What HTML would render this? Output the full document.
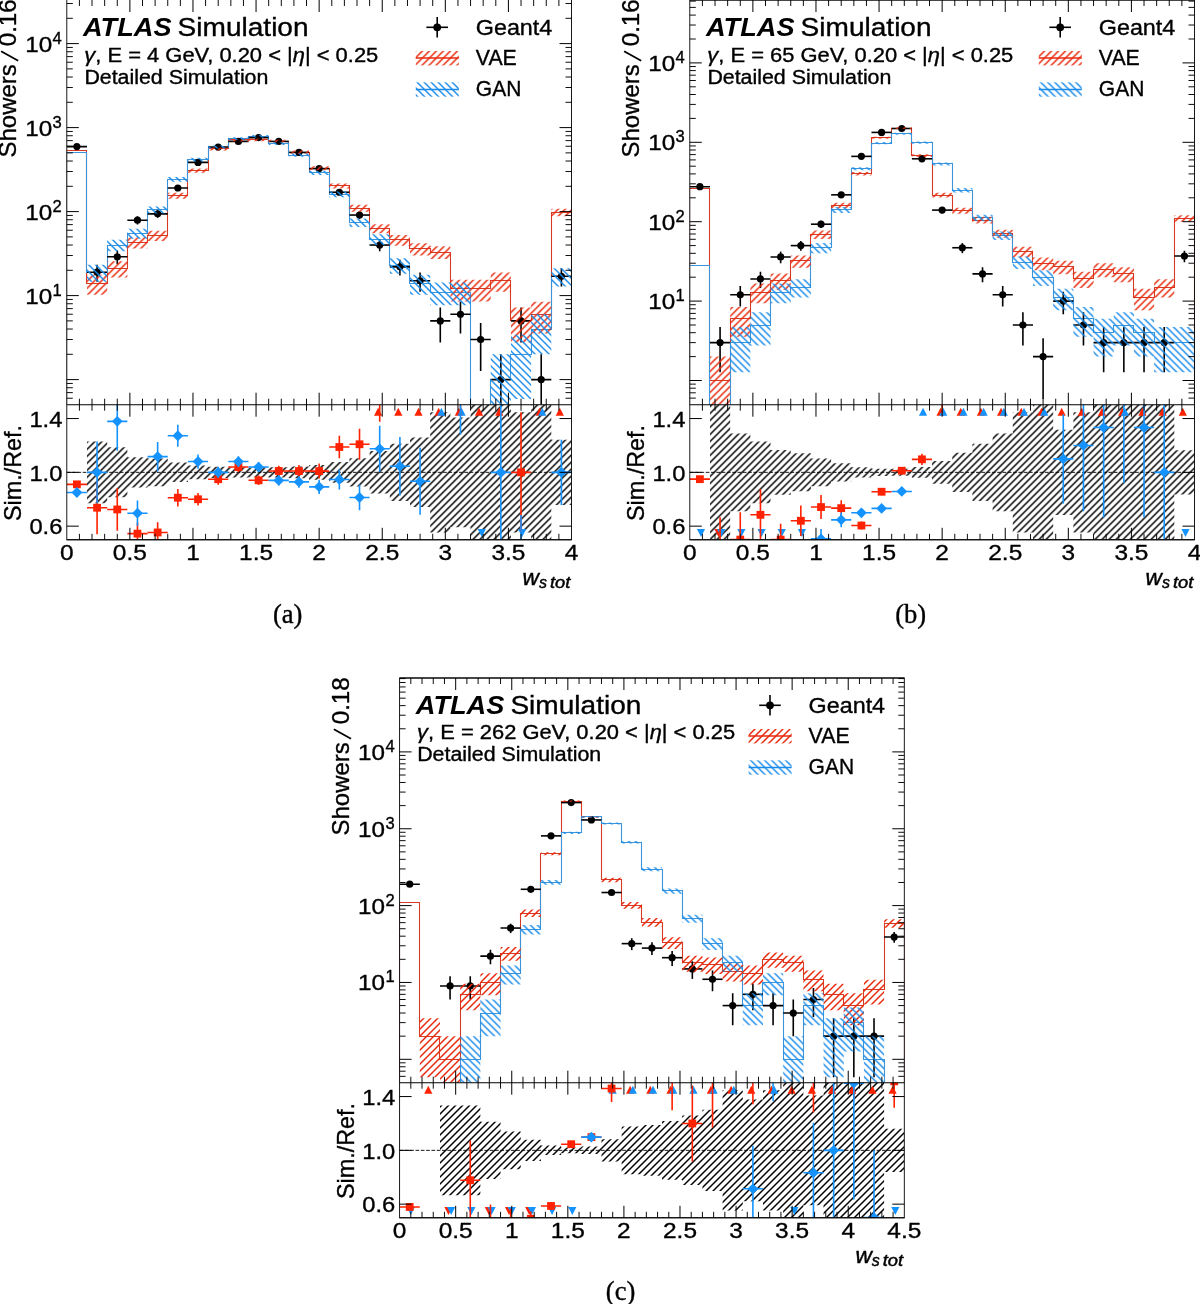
<!DOCTYPE html>
<html><head><meta charset="utf-8"><title>Figure</title>
<style>html,body{margin:0;padding:0;background:#fff}svg{display:block;will-change:transform}text{fill:#000}</style></head>
<body>
<svg width="1200" height="1304" viewBox="0 0 1200 1304">
<rect width="1200" height="1304" fill="#fff"/>
<defs>
<pattern id="hr1" patternUnits="userSpaceOnUse" width="7" height="7" patternTransform="translate(4.4 0)"><path d="M-1 8L8 -1M-1 1L1 -1M6 8L8 6" stroke="#e82a0c" stroke-width="1.42" fill="none" stroke-linecap="square"/></pattern>
<pattern id="hb1" patternUnits="userSpaceOnUse" width="7" height="7" patternTransform="translate(5.9 0)"><path d="M-1 -1L8 8M-1 6L1 8M6 -1L8 1" stroke="#188bea" stroke-width="1.42" fill="none" stroke-linecap="square"/></pattern>
<pattern id="hk1" patternUnits="userSpaceOnUse" width="7" height="7" patternTransform="translate(4.4 0)"><path d="M-1 8L8 -1M-1 1L1 -1M6 8L8 6" stroke="#000" stroke-width="1.45" fill="none" stroke-linecap="square"/></pattern>
</defs>
<clipPath id="cm1"><rect x="66.8" y="0" width="504.7" height="404.5"/></clipPath>
<clipPath id="cr1"><rect x="66.8" y="404.7" width="504.7" height="134.5"/></clipPath>
<g clip-path="url(#cm1)">
<path d="M66.5 434.7V150.5H86.5V283.5H107.5V268.5H127.5V242.5H147.5V235.5H167.5V195.5H187.5V170.5H208.5V148.5H228.5V139.5H248.5V139.5H268.5V141.5H288.5V152.5H309.5V168.5H329.5V185.5H349.5V208.5H369.5V228.5H389.5V239.5H409.5V248.5H430.5V252.5H450.5V288.5H470.5V288.5H490.5V280.5H510.5V320.5H531.5V314.5H551.5V212.5H571.5V434.7" fill="none" stroke="#d63a24" stroke-width="1.08" stroke-linejoin="miter"/>
<path d="M66.5 434.7V152.5H86.5V272.5H107.5V245.5H127.5V233.5H147.5V209.5H167.5V179.5H187.5V159.5H208.5V147.5H228.5V138.5H248.5V136.5H268.5V143.5H288.5V155.5H309.5V172.5H329.5V194.5H349.5V222.5H369.5V239.5H389.5V265.5H409.5V283.5H430.5V292.5H450.5V292.5H470.5V454.5H490.5V379.5H510.5V354.5H531.5V329.5H551.5V276.5H571.5V434.7" fill="none" stroke="#3c95da" stroke-width="1.08" stroke-linejoin="miter"/>
<line x1="66.8" y1="146.6" x2="86.99" y2="146.6" stroke="#000" stroke-width="1.6" />
<line x1="76.89" y1="145.14" x2="76.89" y2="148.13" stroke="#000" stroke-width="1.6" />
<circle cx="76.89" cy="146.6" r="3.6" fill="#000"/>
<line x1="86.99" y1="272.18" x2="107.18" y2="272.18" stroke="#000" stroke-width="1.6" />
<line x1="97.08" y1="264.65" x2="97.08" y2="281.69" stroke="#000" stroke-width="1.6" />
<circle cx="97.08" cy="272.18" r="3.6" fill="#000"/>
<line x1="107.18" y1="256.76" x2="127.36" y2="256.76" stroke="#000" stroke-width="1.6" />
<line x1="117.27" y1="250.54" x2="117.27" y2="264.25" stroke="#000" stroke-width="1.6" />
<circle cx="117.27" cy="256.76" r="3.6" fill="#000"/>
<line x1="127.36" y1="220.2" x2="147.55" y2="220.2" stroke="#000" stroke-width="1.6" />
<line x1="137.46" y1="216.31" x2="137.46" y2="224.55" stroke="#000" stroke-width="1.6" />
<circle cx="137.46" cy="220.2" r="3.6" fill="#000"/>
<line x1="147.55" y1="213.86" x2="167.74" y2="213.86" stroke="#000" stroke-width="1.6" />
<line x1="157.65" y1="210.28" x2="157.65" y2="217.83" stroke="#000" stroke-width="1.6" />
<circle cx="157.65" cy="213.86" r="3.6" fill="#000"/>
<line x1="167.74" y1="187.99" x2="187.93" y2="187.99" stroke="#000" stroke-width="1.6" />
<line x1="177.83" y1="185.44" x2="177.83" y2="190.73" stroke="#000" stroke-width="1.6" />
<circle cx="177.83" cy="187.99" r="3.6" fill="#000"/>
<line x1="187.93" y1="162.42" x2="208.12" y2="162.42" stroke="#000" stroke-width="1.6" />
<line x1="198.02" y1="160.61" x2="198.02" y2="164.33" stroke="#000" stroke-width="1.6" />
<circle cx="198.02" cy="162.42" r="3.6" fill="#000"/>
<line x1="208.12" y1="147.03" x2="228.3" y2="147.03" stroke="#000" stroke-width="1.6" />
<line x1="218.21" y1="145.56" x2="218.21" y2="148.57" stroke="#000" stroke-width="1.6" />
<circle cx="218.21" cy="147.03" r="3.6" fill="#000"/>
<line x1="228.3" y1="141.4" x2="248.49" y2="141.4" stroke="#000" stroke-width="1.6" />
<line x1="238.4" y1="140.03" x2="238.4" y2="142.82" stroke="#000" stroke-width="1.6" />
<circle cx="238.4" cy="141.4" r="3.6" fill="#000"/>
<line x1="248.49" y1="137.61" x2="268.68" y2="137.61" stroke="#000" stroke-width="1.6" />
<line x1="258.59" y1="136.31" x2="258.59" y2="138.96" stroke="#000" stroke-width="1.6" />
<circle cx="258.59" cy="137.61" r="3.6" fill="#000"/>
<line x1="268.68" y1="141.4" x2="288.87" y2="141.4" stroke="#000" stroke-width="1.6" />
<line x1="278.77" y1="140.03" x2="278.77" y2="142.82" stroke="#000" stroke-width="1.6" />
<circle cx="278.77" cy="141.4" r="3.6" fill="#000"/>
<line x1="288.87" y1="152.38" x2="309.06" y2="152.38" stroke="#000" stroke-width="1.6" />
<line x1="298.96" y1="150.79" x2="298.96" y2="154.04" stroke="#000" stroke-width="1.6" />
<circle cx="298.96" cy="152.38" r="3.6" fill="#000"/>
<line x1="309.06" y1="168.6" x2="329.24" y2="168.6" stroke="#000" stroke-width="1.6" />
<line x1="319.15" y1="166.63" x2="319.15" y2="170.68" stroke="#000" stroke-width="1.6" />
<circle cx="319.15" cy="168.6" r="3.6" fill="#000"/>
<line x1="329.24" y1="192.24" x2="349.43" y2="192.24" stroke="#000" stroke-width="1.6" />
<line x1="339.34" y1="189.55" x2="339.34" y2="195.15" stroke="#000" stroke-width="1.6" />
<circle cx="339.34" cy="192.24" r="3.6" fill="#000"/>
<line x1="349.43" y1="215.04" x2="369.62" y2="215.04" stroke="#000" stroke-width="1.6" />
<line x1="359.53" y1="211.4" x2="359.53" y2="219.08" stroke="#000" stroke-width="1.6" />
<circle cx="359.53" cy="215.04" r="3.6" fill="#000"/>
<line x1="369.62" y1="245.03" x2="389.81" y2="245.03" stroke="#000" stroke-width="1.6" />
<line x1="379.71" y1="239.67" x2="379.71" y2="251.31" stroke="#000" stroke-width="1.6" />
<circle cx="379.71" cy="245.03" r="3.6" fill="#000"/>
<line x1="389.81" y1="266.84" x2="410" y2="266.84" stroke="#000" stroke-width="1.6" />
<line x1="399.9" y1="259.79" x2="399.9" y2="275.58" stroke="#000" stroke-width="1.6" />
<circle cx="399.9" cy="266.84" r="3.6" fill="#000"/>
<line x1="410" y1="280.81" x2="430.18" y2="280.81" stroke="#000" stroke-width="1.6" />
<line x1="420.09" y1="272.43" x2="420.09" y2="291.7" stroke="#000" stroke-width="1.6" />
<circle cx="420.09" cy="280.81" r="3.6" fill="#000"/>
<line x1="430.18" y1="320.89" x2="450.37" y2="320.89" stroke="#000" stroke-width="1.6" />
<line x1="440.28" y1="307.4" x2="440.28" y2="342.51" stroke="#000" stroke-width="1.6" />
<circle cx="440.28" cy="320.89" r="3.6" fill="#000"/>
<line x1="450.37" y1="314.24" x2="470.56" y2="314.24" stroke="#000" stroke-width="1.6" />
<line x1="460.47" y1="301.75" x2="460.47" y2="333.38" stroke="#000" stroke-width="1.6" />
<circle cx="460.47" cy="314.24" r="3.6" fill="#000"/>
<line x1="470.56" y1="339.52" x2="490.75" y2="339.52" stroke="#000" stroke-width="1.6" />
<line x1="480.65" y1="322.9" x2="480.65" y2="370.94" stroke="#000" stroke-width="1.6" />
<circle cx="480.65" cy="339.52" r="3.6" fill="#000"/>
<line x1="490.75" y1="379.6" x2="510.94" y2="379.6" stroke="#000" stroke-width="1.6" />
<line x1="500.84" y1="354.31" x2="500.84" y2="424.7" stroke="#000" stroke-width="1.6" />
<circle cx="500.84" cy="379.6" r="3.6" fill="#000"/>
<line x1="510.94" y1="320.89" x2="531.12" y2="320.89" stroke="#000" stroke-width="1.6" />
<line x1="521.03" y1="307.4" x2="521.03" y2="342.51" stroke="#000" stroke-width="1.6" />
<circle cx="521.03" cy="320.89" r="3.6" fill="#000"/>
<line x1="531.12" y1="379.6" x2="551.31" y2="379.6" stroke="#000" stroke-width="1.6" />
<line x1="541.22" y1="354.31" x2="541.22" y2="424.7" stroke="#000" stroke-width="1.6" />
<circle cx="541.22" cy="379.6" r="3.6" fill="#000"/>
<line x1="551.31" y1="276.24" x2="571.5" y2="276.24" stroke="#000" stroke-width="1.6" />
<line x1="561.41" y1="268.32" x2="561.41" y2="286.38" stroke="#000" stroke-width="1.6" />
<circle cx="561.41" cy="276.24" r="3.6" fill="#000"/>
<path d="M86.99 274.68H107.18V294.67H86.99ZM107.18 261.33H127.36V277.51H107.18ZM127.36 237.21H147.55V248.42H127.36ZM147.55 230.72H167.74V240.9H147.55ZM167.74 192.79H187.93V198.67H167.74ZM187.93 168.54H208.12V172.7H187.93ZM208.12 147.43H228.3V150.53H208.12ZM228.3 138.65H248.49V141.39H228.3ZM248.49 138.5H268.68V141.23H248.49ZM268.68 139.67H288.87V142.44H268.68ZM288.87 150.44H309.06V153.67H288.87ZM309.06 166.31H329.24V170.34H309.06ZM329.24 183.47H349.43V188.61H329.24ZM349.43 204.8H369.62V211.78H349.43ZM369.62 224.13H389.81V233.37H369.62ZM389.81 234.91H410V245.75H389.81ZM410 243.25H430.18V255.52H410ZM430.18 246.19H450.37V259.02H430.18ZM450.37 279.7H470.56V301.38H450.37ZM470.56 279.7H490.75V301.38H470.56ZM490.75 272.43H510.94V291.7H490.75ZM510.94 307.4H531.12V342.51H510.94ZM531.12 301.75H551.31V333.38H531.12ZM551.31 208.83H571.5V216.22H551.31Z" fill="url(#hr1)"/>
<path d="M86.99 264.65H107.18V281.69H86.99ZM107.18 239.67H127.36V251.31H107.18ZM127.36 228.8H147.55V238.69H127.36ZM147.55 206.42H167.74V213.57H147.55ZM167.74 176.94H187.93V181.63H167.74ZM187.93 157.85H208.12V161.43H187.93ZM208.12 145.56H228.3V148.57H208.12ZM228.3 137.27H248.49V139.95H228.3ZM248.49 134.92H268.68V137.52H248.49ZM268.68 142.24H288.87V145.12H268.68ZM288.87 153.42H309.06V156.79H288.87ZM309.06 170.68H329.24V174.97H309.06ZM329.24 191.46H349.43V197.22H329.24ZM349.43 218.57H369.62V227.09H349.43ZM369.62 234.18H389.81V244.9H369.62ZM389.81 258.31H410V273.75H389.81ZM410 274.68H430.18V294.67H410ZM430.18 282.51H450.37V305.21H430.18ZM450.37 282.51H470.56V305.21H450.37ZM490.75 354.31H510.94V424.7H490.75ZM510.94 334.8H531.12V399.11H510.94ZM531.12 314.24H551.31V354.31H531.12ZM551.31 268.32H571.5V286.38H551.31Z" fill="url(#hb1)"/>
</g>
<g clip-path="url(#cr1)">
<path d="M86.99 441.49H107.18V503.21H86.99ZM107.18 447.37H127.36V497.33H107.18ZM127.36 457.22H147.55V487.48H127.36ZM147.55 458.48H167.74V486.22H147.55ZM167.74 462.62H187.93V482.08H167.74ZM187.93 465.5H208.12V479.2H187.93ZM208.12 466.8H228.3V477.9H208.12ZM228.3 467.21H248.49V477.49H228.3ZM248.49 467.47H268.68V477.23H248.49ZM268.68 467.21H288.87V477.49H268.68ZM288.87 466.38H309.06V478.32H288.87ZM309.06 464.89H329.24V479.81H309.06ZM329.24 462.03H349.43V482.67H329.24ZM349.43 458.25H369.62V486.45H349.43ZM369.62 451.08H389.81V493.62H369.62ZM389.81 443.67H410V501.03H389.81ZM410 437.62H430.18V507.08H410ZM430.18 412.2H450.37V532.5H430.18ZM450.37 417.44H470.56V527.26H450.37ZM470.56 394.7H490.75V550H470.56ZM490.75 337.85H510.94V606.85H490.75ZM510.94 412.2H531.12V532.5H510.94ZM531.12 337.85H551.31V606.85H531.12ZM551.31 439.73H571.5V504.97H551.31Z" fill="url(#hk1)"/>
<line x1="66.8" y1="472.35" x2="571.5" y2="472.35" stroke="#000" stroke-width="0.9" stroke-dasharray="3.7 1.6"/>
<path d="M378.11 407.83l4.1 8h-8.2z" fill="#ff2200"/>
<path d="M398.3 407.83l4.1 8h-8.2z" fill="#ff2200"/>
<path d="M418.49 407.83l4.1 8h-8.2z" fill="#ff2200"/>
<path d="M438.68 407.83l4.1 8h-8.2z" fill="#ff2200"/>
<path d="M458.87 407.83l4.1 8h-8.2z" fill="#ff2200"/>
<path d="M479.05 407.83l4.1 8h-8.2z" fill="#ff2200"/>
<path d="M499.24 407.83l4.1 8h-8.2z" fill="#ff2200"/>
<path d="M539.62 407.83l4.1 8h-8.2z" fill="#ff2200"/>
<path d="M559.81 407.83l4.1 8h-8.2z" fill="#ff2200"/>
<path d="M441.38 407.83l4.1 8h-8.2z" fill="#1493ff"/>
<path d="M461.57 407.83l4.1 8h-8.2z" fill="#1493ff"/>
<path d="M481.75 536.88l-4.1 -8h8.2z" fill="#1493ff"/>
<path d="M522.13 536.88l-4.1 -8h8.2z" fill="#1493ff"/>
<path d="M542.32 407.83l4.1 8h-8.2z" fill="#1493ff"/>
<line x1="66.8" y1="484.35" x2="86.99" y2="484.35" stroke="#ff2200" stroke-width="1.6" />
<rect x="72.99" y="480.45" width="7.8" height="7.8" fill="#ff2200"/>
<line x1="86.99" y1="507.74" x2="107.18" y2="507.74" stroke="#ff2200" stroke-width="1.6" />
<line x1="97.08" y1="481.26" x2="97.08" y2="534.23" stroke="#ff2200" stroke-width="1.6" />
<rect x="93.18" y="503.84" width="7.8" height="7.8" fill="#ff2200"/>
<line x1="107.18" y1="509.45" x2="127.36" y2="509.45" stroke="#ff2200" stroke-width="1.6" />
<line x1="117.27" y1="488.2" x2="117.27" y2="530.71" stroke="#ff2200" stroke-width="1.6" />
<rect x="113.37" y="505.55" width="7.8" height="7.8" fill="#ff2200"/>
<line x1="127.36" y1="533.64" x2="147.55" y2="533.64" stroke="#ff2200" stroke-width="1.6" />
<line x1="137.46" y1="522.48" x2="137.46" y2="544.81" stroke="#ff2200" stroke-width="1.6" />
<rect x="133.56" y="529.74" width="7.8" height="7.8" fill="#ff2200"/>
<line x1="147.55" y1="532.45" x2="167.74" y2="532.45" stroke="#ff2200" stroke-width="1.6" />
<line x1="157.65" y1="522.13" x2="157.65" y2="542.76" stroke="#ff2200" stroke-width="1.6" />
<rect x="153.75" y="528.55" width="7.8" height="7.8" fill="#ff2200"/>
<line x1="167.74" y1="497.7" x2="187.93" y2="497.7" stroke="#ff2200" stroke-width="1.6" />
<line x1="177.83" y1="488.93" x2="177.83" y2="506.47" stroke="#ff2200" stroke-width="1.6" />
<rect x="173.93" y="493.8" width="7.8" height="7.8" fill="#ff2200"/>
<line x1="187.93" y1="499.25" x2="208.12" y2="499.25" stroke="#ff2200" stroke-width="1.6" />
<line x1="198.02" y1="493.12" x2="198.02" y2="505.38" stroke="#ff2200" stroke-width="1.6" />
<rect x="194.12" y="495.35" width="7.8" height="7.8" fill="#ff2200"/>
<line x1="208.12" y1="479.22" x2="228.3" y2="479.22" stroke="#ff2200" stroke-width="1.6" />
<line x1="218.21" y1="473.82" x2="218.21" y2="484.63" stroke="#ff2200" stroke-width="1.6" />
<rect x="214.31" y="475.32" width="7.8" height="7.8" fill="#ff2200"/>
<line x1="228.3" y1="467.05" x2="248.49" y2="467.05" stroke="#ff2200" stroke-width="1.6" />
<line x1="238.4" y1="461.81" x2="238.4" y2="472.29" stroke="#ff2200" stroke-width="1.6" />
<rect x="234.5" y="463.15" width="7.8" height="7.8" fill="#ff2200"/>
<line x1="248.49" y1="480.31" x2="268.68" y2="480.31" stroke="#ff2200" stroke-width="1.6" />
<line x1="258.59" y1="475.58" x2="258.59" y2="485.05" stroke="#ff2200" stroke-width="1.6" />
<rect x="254.69" y="476.41" width="7.8" height="7.8" fill="#ff2200"/>
<line x1="268.68" y1="470.98" x2="288.87" y2="470.98" stroke="#ff2200" stroke-width="1.6" />
<line x1="278.77" y1="465.81" x2="278.77" y2="476.14" stroke="#ff2200" stroke-width="1.6" />
<rect x="274.87" y="467.08" width="7.8" height="7.8" fill="#ff2200"/>
<line x1="288.87" y1="471.02" x2="309.06" y2="471.02" stroke="#ff2200" stroke-width="1.6" />
<line x1="298.96" y1="465.02" x2="298.96" y2="477.03" stroke="#ff2200" stroke-width="1.6" />
<rect x="295.06" y="467.12" width="7.8" height="7.8" fill="#ff2200"/>
<line x1="309.06" y1="471.11" x2="329.24" y2="471.11" stroke="#ff2200" stroke-width="1.6" />
<line x1="319.15" y1="463.61" x2="319.15" y2="478.6" stroke="#ff2200" stroke-width="1.6" />
<rect x="315.25" y="467.21" width="7.8" height="7.8" fill="#ff2200"/>
<line x1="329.24" y1="447.03" x2="349.43" y2="447.03" stroke="#ff2200" stroke-width="1.6" />
<line x1="339.34" y1="435.79" x2="339.34" y2="458.28" stroke="#ff2200" stroke-width="1.6" />
<rect x="335.44" y="443.13" width="7.8" height="7.8" fill="#ff2200"/>
<line x1="349.43" y1="444.27" x2="369.62" y2="444.27" stroke="#ff2200" stroke-width="1.6" />
<line x1="359.53" y1="428.77" x2="359.53" y2="459.77" stroke="#ff2200" stroke-width="1.6" />
<rect x="355.63" y="440.37" width="7.8" height="7.8" fill="#ff2200"/>
<line x1="369.62" y1="395.01" x2="389.81" y2="395.01" stroke="#ff2200" stroke-width="1.6" />
<line x1="379.71" y1="378.2" x2="379.71" y2="421.7" stroke="#ff2200" stroke-width="1.6" />
<rect x="375.81" y="391.11" width="7.8" height="7.8" fill="#ff2200"/>
<line x1="450.37" y1="337.85" x2="470.56" y2="337.85" stroke="#ff2200" stroke-width="1.6" />
<line x1="460.47" y1="378.2" x2="460.47" y2="415.5" stroke="#ff2200" stroke-width="1.6" />
<rect x="456.57" y="333.95" width="7.8" height="7.8" fill="#ff2200"/>
<line x1="510.94" y1="472.35" x2="531.12" y2="472.35" stroke="#ff2200" stroke-width="1.6" />
<line x1="521.03" y1="412.2" x2="521.03" y2="532.5" stroke="#ff2200" stroke-width="1.6" />
<rect x="517.13" y="468.45" width="7.8" height="7.8" fill="#ff2200"/>
<line x1="66.8" y1="492.5" x2="86.99" y2="492.5" stroke="#1493ff" stroke-width="1.6" />
<path d="M76.89 487.1l5.4 5.4l-5.4 5.4l-5.4 -5.4z" fill="#1493ff"/>
<line x1="86.99" y1="472.35" x2="107.18" y2="472.35" stroke="#1493ff" stroke-width="1.6" />
<line x1="97.08" y1="441.49" x2="97.08" y2="503.21" stroke="#1493ff" stroke-width="1.6" />
<path d="M97.08 466.95l5.4 5.4l-5.4 5.4l-5.4 -5.4z" fill="#1493ff"/>
<line x1="107.18" y1="421.33" x2="127.36" y2="421.33" stroke="#1493ff" stroke-width="1.6" />
<line x1="117.27" y1="392" x2="117.27" y2="450.67" stroke="#1493ff" stroke-width="1.6" />
<path d="M117.27 415.93l5.4 5.4l-5.4 5.4l-5.4 -5.4z" fill="#1493ff"/>
<line x1="127.36" y1="513.21" x2="147.55" y2="513.21" stroke="#1493ff" stroke-width="1.6" />
<line x1="137.46" y1="500.58" x2="137.46" y2="525.84" stroke="#1493ff" stroke-width="1.6" />
<path d="M137.46 507.81l5.4 5.4l-5.4 5.4l-5.4 -5.4z" fill="#1493ff"/>
<line x1="147.55" y1="456.61" x2="167.74" y2="456.61" stroke="#1493ff" stroke-width="1.6" />
<line x1="157.65" y1="441.95" x2="157.65" y2="471.27" stroke="#1493ff" stroke-width="1.6" />
<path d="M157.65 451.21l5.4 5.4l-5.4 5.4l-5.4 -5.4z" fill="#1493ff"/>
<line x1="167.74" y1="435.73" x2="187.93" y2="435.73" stroke="#1493ff" stroke-width="1.6" />
<line x1="177.83" y1="424.75" x2="177.83" y2="446.71" stroke="#1493ff" stroke-width="1.6" />
<path d="M177.83 430.33l5.4 5.4l-5.4 5.4l-5.4 -5.4z" fill="#1493ff"/>
<line x1="187.93" y1="461.52" x2="208.12" y2="461.52" stroke="#1493ff" stroke-width="1.6" />
<line x1="198.02" y1="454.39" x2="198.02" y2="468.65" stroke="#1493ff" stroke-width="1.6" />
<path d="M198.02 456.12l5.4 5.4l-5.4 5.4l-5.4 -5.4z" fill="#1493ff"/>
<line x1="208.12" y1="472.35" x2="228.3" y2="472.35" stroke="#1493ff" stroke-width="1.6" />
<line x1="218.21" y1="466.8" x2="218.21" y2="477.9" stroke="#1493ff" stroke-width="1.6" />
<path d="M218.21 466.95l5.4 5.4l-5.4 5.4l-5.4 -5.4z" fill="#1493ff"/>
<line x1="228.3" y1="461.55" x2="248.49" y2="461.55" stroke="#1493ff" stroke-width="1.6" />
<line x1="238.4" y1="456.21" x2="238.4" y2="466.89" stroke="#1493ff" stroke-width="1.6" />
<path d="M238.4 456.15l5.4 5.4l-5.4 5.4l-5.4 -5.4z" fill="#1493ff"/>
<line x1="248.49" y1="467.04" x2="268.68" y2="467.04" stroke="#1493ff" stroke-width="1.6" />
<line x1="258.59" y1="462.07" x2="258.59" y2="472.01" stroke="#1493ff" stroke-width="1.6" />
<path d="M258.59 461.64l5.4 5.4l-5.4 5.4l-5.4 -5.4z" fill="#1493ff"/>
<line x1="268.68" y1="480.4" x2="288.87" y2="480.4" stroke="#1493ff" stroke-width="1.6" />
<line x1="278.77" y1="475.42" x2="278.77" y2="485.38" stroke="#1493ff" stroke-width="1.6" />
<path d="M278.77 475l5.4 5.4l-5.4 5.4l-5.4 -5.4z" fill="#1493ff"/>
<line x1="288.87" y1="481.9" x2="309.06" y2="481.9" stroke="#1493ff" stroke-width="1.6" />
<line x1="298.96" y1="476.14" x2="298.96" y2="487.66" stroke="#1493ff" stroke-width="1.6" />
<path d="M298.96 476.5l5.4 5.4l-5.4 5.4l-5.4 -5.4z" fill="#1493ff"/>
<line x1="309.06" y1="486.83" x2="329.24" y2="486.83" stroke="#1493ff" stroke-width="1.6" />
<line x1="319.15" y1="479.79" x2="319.15" y2="493.88" stroke="#1493ff" stroke-width="1.6" />
<path d="M319.15 481.43l5.4 5.4l-5.4 5.4l-5.4 -5.4z" fill="#1493ff"/>
<line x1="329.24" y1="479.47" x2="349.43" y2="479.47" stroke="#1493ff" stroke-width="1.6" />
<line x1="339.34" y1="469.43" x2="339.34" y2="489.51" stroke="#1493ff" stroke-width="1.6" />
<path d="M339.34 474.07l5.4 5.4l-5.4 5.4l-5.4 -5.4z" fill="#1493ff"/>
<line x1="349.43" y1="497.48" x2="369.62" y2="497.48" stroke="#1493ff" stroke-width="1.6" />
<line x1="359.53" y1="484.76" x2="359.53" y2="510.19" stroke="#1493ff" stroke-width="1.6" />
<path d="M359.53 492.08l5.4 5.4l-5.4 5.4l-5.4 -5.4z" fill="#1493ff"/>
<line x1="369.62" y1="448.81" x2="389.81" y2="448.81" stroke="#1493ff" stroke-width="1.6" />
<line x1="379.71" y1="425.76" x2="379.71" y2="471.86" stroke="#1493ff" stroke-width="1.6" />
<path d="M379.71 443.41l5.4 5.4l-5.4 5.4l-5.4 -5.4z" fill="#1493ff"/>
<line x1="389.81" y1="466.24" x2="410" y2="466.24" stroke="#1493ff" stroke-width="1.6" />
<line x1="399.9" y1="436.92" x2="399.9" y2="495.56" stroke="#1493ff" stroke-width="1.6" />
<path d="M399.9 460.84l5.4 5.4l-5.4 5.4l-5.4 -5.4z" fill="#1493ff"/>
<line x1="410" y1="481.32" x2="430.18" y2="481.32" stroke="#1493ff" stroke-width="1.6" />
<line x1="420.09" y1="447.77" x2="420.09" y2="514.87" stroke="#1493ff" stroke-width="1.6" />
<path d="M420.09 475.92l5.4 5.4l-5.4 5.4l-5.4 -5.4z" fill="#1493ff"/>
<line x1="430.18" y1="310.95" x2="450.37" y2="310.95" stroke="#1493ff" stroke-width="1.6" />
<line x1="440.28" y1="378.2" x2="440.28" y2="400.17" stroke="#1493ff" stroke-width="1.6" />
<path d="M440.28 305.55l5.4 5.4l-5.4 5.4l-5.4 -5.4z" fill="#1493ff"/>
<line x1="450.37" y1="360.27" x2="470.56" y2="360.27" stroke="#1493ff" stroke-width="1.6" />
<line x1="460.47" y1="378.2" x2="460.47" y2="434.61" stroke="#1493ff" stroke-width="1.6" />
<path d="M460.47 354.87l5.4 5.4l-5.4 5.4l-5.4 -5.4z" fill="#1493ff"/>
<line x1="490.75" y1="472.35" x2="510.94" y2="472.35" stroke="#1493ff" stroke-width="1.6" />
<line x1="500.84" y1="378.2" x2="500.84" y2="566.5" stroke="#1493ff" stroke-width="1.6" />
<path d="M500.84 466.95l5.4 5.4l-5.4 5.4l-5.4 -5.4z" fill="#1493ff"/>
<line x1="510.94" y1="553.05" x2="531.12" y2="553.05" stroke="#1493ff" stroke-width="1.6" />
<line x1="521.03" y1="515.01" x2="521.03" y2="566.5" stroke="#1493ff" stroke-width="1.6" />
<path d="M521.03 547.65l5.4 5.4l-5.4 5.4l-5.4 -5.4z" fill="#1493ff"/>
<line x1="551.31" y1="472.35" x2="571.5" y2="472.35" stroke="#1493ff" stroke-width="1.6" />
<line x1="561.41" y1="439.73" x2="561.41" y2="504.97" stroke="#1493ff" stroke-width="1.6" />
<path d="M561.41 466.95l5.4 5.4l-5.4 5.4l-5.4 -5.4z" fill="#1493ff"/>
</g>
<text x="66.8" y="560.1" font-family="'Liberation Sans', sans-serif" font-size="22.2" font-weight="normal" font-style="normal" text-anchor="middle" textLength="13.6" lengthAdjust="spacingAndGlyphs" stroke="#000" stroke-width="0.35">0</text>
<line x1="79.42" y1="0" x2="79.42" y2="6" stroke="#000" stroke-width="0.95" />
<line x1="79.42" y1="398.7" x2="79.42" y2="410.7" stroke="#000" stroke-width="0.95" />
<line x1="79.42" y1="533.8" x2="79.42" y2="539.8" stroke="#000" stroke-width="0.95" />
<line x1="92.03" y1="0" x2="92.03" y2="6" stroke="#000" stroke-width="0.95" />
<line x1="92.03" y1="398.7" x2="92.03" y2="410.7" stroke="#000" stroke-width="0.95" />
<line x1="92.03" y1="533.8" x2="92.03" y2="539.8" stroke="#000" stroke-width="0.95" />
<line x1="104.65" y1="0" x2="104.65" y2="6" stroke="#000" stroke-width="0.95" />
<line x1="104.65" y1="398.7" x2="104.65" y2="410.7" stroke="#000" stroke-width="0.95" />
<line x1="104.65" y1="533.8" x2="104.65" y2="539.8" stroke="#000" stroke-width="0.95" />
<line x1="117.27" y1="0" x2="117.27" y2="6" stroke="#000" stroke-width="0.95" />
<line x1="117.27" y1="398.7" x2="117.27" y2="410.7" stroke="#000" stroke-width="0.95" />
<line x1="117.27" y1="533.8" x2="117.27" y2="539.8" stroke="#000" stroke-width="0.95" />
<line x1="129.89" y1="0" x2="129.89" y2="12" stroke="#000" stroke-width="1" />
<line x1="129.89" y1="392.7" x2="129.89" y2="416.7" stroke="#000" stroke-width="1" />
<line x1="129.89" y1="527.8" x2="129.89" y2="539.8" stroke="#000" stroke-width="1" />
<text x="129.89" y="560.1" font-family="'Liberation Sans', sans-serif" font-size="22.2" font-weight="normal" font-style="normal" text-anchor="middle" textLength="34" lengthAdjust="spacingAndGlyphs" stroke="#000" stroke-width="0.35">0.5</text>
<line x1="142.5" y1="0" x2="142.5" y2="6" stroke="#000" stroke-width="0.95" />
<line x1="142.5" y1="398.7" x2="142.5" y2="410.7" stroke="#000" stroke-width="0.95" />
<line x1="142.5" y1="533.8" x2="142.5" y2="539.8" stroke="#000" stroke-width="0.95" />
<line x1="155.12" y1="0" x2="155.12" y2="6" stroke="#000" stroke-width="0.95" />
<line x1="155.12" y1="398.7" x2="155.12" y2="410.7" stroke="#000" stroke-width="0.95" />
<line x1="155.12" y1="533.8" x2="155.12" y2="539.8" stroke="#000" stroke-width="0.95" />
<line x1="167.74" y1="0" x2="167.74" y2="6" stroke="#000" stroke-width="0.95" />
<line x1="167.74" y1="398.7" x2="167.74" y2="410.7" stroke="#000" stroke-width="0.95" />
<line x1="167.74" y1="533.8" x2="167.74" y2="539.8" stroke="#000" stroke-width="0.95" />
<line x1="180.36" y1="0" x2="180.36" y2="6" stroke="#000" stroke-width="0.95" />
<line x1="180.36" y1="398.7" x2="180.36" y2="410.7" stroke="#000" stroke-width="0.95" />
<line x1="180.36" y1="533.8" x2="180.36" y2="539.8" stroke="#000" stroke-width="0.95" />
<line x1="192.97" y1="0" x2="192.97" y2="12" stroke="#000" stroke-width="1" />
<line x1="192.97" y1="392.7" x2="192.97" y2="416.7" stroke="#000" stroke-width="1" />
<line x1="192.97" y1="527.8" x2="192.97" y2="539.8" stroke="#000" stroke-width="1" />
<text x="192.97" y="560.1" font-family="'Liberation Sans', sans-serif" font-size="22.2" font-weight="normal" font-style="normal" text-anchor="middle" textLength="13.6" lengthAdjust="spacingAndGlyphs" stroke="#000" stroke-width="0.35">1</text>
<line x1="205.59" y1="0" x2="205.59" y2="6" stroke="#000" stroke-width="0.95" />
<line x1="205.59" y1="398.7" x2="205.59" y2="410.7" stroke="#000" stroke-width="0.95" />
<line x1="205.59" y1="533.8" x2="205.59" y2="539.8" stroke="#000" stroke-width="0.95" />
<line x1="218.21" y1="0" x2="218.21" y2="6" stroke="#000" stroke-width="0.95" />
<line x1="218.21" y1="398.7" x2="218.21" y2="410.7" stroke="#000" stroke-width="0.95" />
<line x1="218.21" y1="533.8" x2="218.21" y2="539.8" stroke="#000" stroke-width="0.95" />
<line x1="230.83" y1="0" x2="230.83" y2="6" stroke="#000" stroke-width="0.95" />
<line x1="230.83" y1="398.7" x2="230.83" y2="410.7" stroke="#000" stroke-width="0.95" />
<line x1="230.83" y1="533.8" x2="230.83" y2="539.8" stroke="#000" stroke-width="0.95" />
<line x1="243.44" y1="0" x2="243.44" y2="6" stroke="#000" stroke-width="0.95" />
<line x1="243.44" y1="398.7" x2="243.44" y2="410.7" stroke="#000" stroke-width="0.95" />
<line x1="243.44" y1="533.8" x2="243.44" y2="539.8" stroke="#000" stroke-width="0.95" />
<line x1="256.06" y1="0" x2="256.06" y2="12" stroke="#000" stroke-width="1" />
<line x1="256.06" y1="392.7" x2="256.06" y2="416.7" stroke="#000" stroke-width="1" />
<line x1="256.06" y1="527.8" x2="256.06" y2="539.8" stroke="#000" stroke-width="1" />
<text x="256.06" y="560.1" font-family="'Liberation Sans', sans-serif" font-size="22.2" font-weight="normal" font-style="normal" text-anchor="middle" textLength="34" lengthAdjust="spacingAndGlyphs" stroke="#000" stroke-width="0.35">1.5</text>
<line x1="268.68" y1="0" x2="268.68" y2="6" stroke="#000" stroke-width="0.95" />
<line x1="268.68" y1="398.7" x2="268.68" y2="410.7" stroke="#000" stroke-width="0.95" />
<line x1="268.68" y1="533.8" x2="268.68" y2="539.8" stroke="#000" stroke-width="0.95" />
<line x1="281.3" y1="0" x2="281.3" y2="6" stroke="#000" stroke-width="0.95" />
<line x1="281.3" y1="398.7" x2="281.3" y2="410.7" stroke="#000" stroke-width="0.95" />
<line x1="281.3" y1="533.8" x2="281.3" y2="539.8" stroke="#000" stroke-width="0.95" />
<line x1="293.92" y1="0" x2="293.92" y2="6" stroke="#000" stroke-width="0.95" />
<line x1="293.92" y1="398.7" x2="293.92" y2="410.7" stroke="#000" stroke-width="0.95" />
<line x1="293.92" y1="533.8" x2="293.92" y2="539.8" stroke="#000" stroke-width="0.95" />
<line x1="306.53" y1="0" x2="306.53" y2="6" stroke="#000" stroke-width="0.95" />
<line x1="306.53" y1="398.7" x2="306.53" y2="410.7" stroke="#000" stroke-width="0.95" />
<line x1="306.53" y1="533.8" x2="306.53" y2="539.8" stroke="#000" stroke-width="0.95" />
<line x1="319.15" y1="0" x2="319.15" y2="12" stroke="#000" stroke-width="1" />
<line x1="319.15" y1="392.7" x2="319.15" y2="416.7" stroke="#000" stroke-width="1" />
<line x1="319.15" y1="527.8" x2="319.15" y2="539.8" stroke="#000" stroke-width="1" />
<text x="319.15" y="560.1" font-family="'Liberation Sans', sans-serif" font-size="22.2" font-weight="normal" font-style="normal" text-anchor="middle" textLength="13.6" lengthAdjust="spacingAndGlyphs" stroke="#000" stroke-width="0.35">2</text>
<line x1="331.77" y1="0" x2="331.77" y2="6" stroke="#000" stroke-width="0.95" />
<line x1="331.77" y1="398.7" x2="331.77" y2="410.7" stroke="#000" stroke-width="0.95" />
<line x1="331.77" y1="533.8" x2="331.77" y2="539.8" stroke="#000" stroke-width="0.95" />
<line x1="344.39" y1="0" x2="344.39" y2="6" stroke="#000" stroke-width="0.95" />
<line x1="344.39" y1="398.7" x2="344.39" y2="410.7" stroke="#000" stroke-width="0.95" />
<line x1="344.39" y1="533.8" x2="344.39" y2="539.8" stroke="#000" stroke-width="0.95" />
<line x1="357" y1="0" x2="357" y2="6" stroke="#000" stroke-width="0.95" />
<line x1="357" y1="398.7" x2="357" y2="410.7" stroke="#000" stroke-width="0.95" />
<line x1="357" y1="533.8" x2="357" y2="539.8" stroke="#000" stroke-width="0.95" />
<line x1="369.62" y1="0" x2="369.62" y2="6" stroke="#000" stroke-width="0.95" />
<line x1="369.62" y1="398.7" x2="369.62" y2="410.7" stroke="#000" stroke-width="0.95" />
<line x1="369.62" y1="533.8" x2="369.62" y2="539.8" stroke="#000" stroke-width="0.95" />
<line x1="382.24" y1="0" x2="382.24" y2="12" stroke="#000" stroke-width="1" />
<line x1="382.24" y1="392.7" x2="382.24" y2="416.7" stroke="#000" stroke-width="1" />
<line x1="382.24" y1="527.8" x2="382.24" y2="539.8" stroke="#000" stroke-width="1" />
<text x="382.24" y="560.1" font-family="'Liberation Sans', sans-serif" font-size="22.2" font-weight="normal" font-style="normal" text-anchor="middle" textLength="34" lengthAdjust="spacingAndGlyphs" stroke="#000" stroke-width="0.35">2.5</text>
<line x1="394.86" y1="0" x2="394.86" y2="6" stroke="#000" stroke-width="0.95" />
<line x1="394.86" y1="398.7" x2="394.86" y2="410.7" stroke="#000" stroke-width="0.95" />
<line x1="394.86" y1="533.8" x2="394.86" y2="539.8" stroke="#000" stroke-width="0.95" />
<line x1="407.47" y1="0" x2="407.47" y2="6" stroke="#000" stroke-width="0.95" />
<line x1="407.47" y1="398.7" x2="407.47" y2="410.7" stroke="#000" stroke-width="0.95" />
<line x1="407.47" y1="533.8" x2="407.47" y2="539.8" stroke="#000" stroke-width="0.95" />
<line x1="420.09" y1="0" x2="420.09" y2="6" stroke="#000" stroke-width="0.95" />
<line x1="420.09" y1="398.7" x2="420.09" y2="410.7" stroke="#000" stroke-width="0.95" />
<line x1="420.09" y1="533.8" x2="420.09" y2="539.8" stroke="#000" stroke-width="0.95" />
<line x1="432.71" y1="0" x2="432.71" y2="6" stroke="#000" stroke-width="0.95" />
<line x1="432.71" y1="398.7" x2="432.71" y2="410.7" stroke="#000" stroke-width="0.95" />
<line x1="432.71" y1="533.8" x2="432.71" y2="539.8" stroke="#000" stroke-width="0.95" />
<line x1="445.32" y1="0" x2="445.32" y2="12" stroke="#000" stroke-width="1" />
<line x1="445.32" y1="392.7" x2="445.32" y2="416.7" stroke="#000" stroke-width="1" />
<line x1="445.32" y1="527.8" x2="445.32" y2="539.8" stroke="#000" stroke-width="1" />
<text x="445.32" y="560.1" font-family="'Liberation Sans', sans-serif" font-size="22.2" font-weight="normal" font-style="normal" text-anchor="middle" textLength="13.6" lengthAdjust="spacingAndGlyphs" stroke="#000" stroke-width="0.35">3</text>
<line x1="457.94" y1="0" x2="457.94" y2="6" stroke="#000" stroke-width="0.95" />
<line x1="457.94" y1="398.7" x2="457.94" y2="410.7" stroke="#000" stroke-width="0.95" />
<line x1="457.94" y1="533.8" x2="457.94" y2="539.8" stroke="#000" stroke-width="0.95" />
<line x1="470.56" y1="0" x2="470.56" y2="6" stroke="#000" stroke-width="0.95" />
<line x1="470.56" y1="398.7" x2="470.56" y2="410.7" stroke="#000" stroke-width="0.95" />
<line x1="470.56" y1="533.8" x2="470.56" y2="539.8" stroke="#000" stroke-width="0.95" />
<line x1="483.18" y1="0" x2="483.18" y2="6" stroke="#000" stroke-width="0.95" />
<line x1="483.18" y1="398.7" x2="483.18" y2="410.7" stroke="#000" stroke-width="0.95" />
<line x1="483.18" y1="533.8" x2="483.18" y2="539.8" stroke="#000" stroke-width="0.95" />
<line x1="495.8" y1="0" x2="495.8" y2="6" stroke="#000" stroke-width="0.95" />
<line x1="495.8" y1="398.7" x2="495.8" y2="410.7" stroke="#000" stroke-width="0.95" />
<line x1="495.8" y1="533.8" x2="495.8" y2="539.8" stroke="#000" stroke-width="0.95" />
<line x1="508.41" y1="0" x2="508.41" y2="12" stroke="#000" stroke-width="1" />
<line x1="508.41" y1="392.7" x2="508.41" y2="416.7" stroke="#000" stroke-width="1" />
<line x1="508.41" y1="527.8" x2="508.41" y2="539.8" stroke="#000" stroke-width="1" />
<text x="508.41" y="560.1" font-family="'Liberation Sans', sans-serif" font-size="22.2" font-weight="normal" font-style="normal" text-anchor="middle" textLength="34" lengthAdjust="spacingAndGlyphs" stroke="#000" stroke-width="0.35">3.5</text>
<line x1="521.03" y1="0" x2="521.03" y2="6" stroke="#000" stroke-width="0.95" />
<line x1="521.03" y1="398.7" x2="521.03" y2="410.7" stroke="#000" stroke-width="0.95" />
<line x1="521.03" y1="533.8" x2="521.03" y2="539.8" stroke="#000" stroke-width="0.95" />
<line x1="533.65" y1="0" x2="533.65" y2="6" stroke="#000" stroke-width="0.95" />
<line x1="533.65" y1="398.7" x2="533.65" y2="410.7" stroke="#000" stroke-width="0.95" />
<line x1="533.65" y1="533.8" x2="533.65" y2="539.8" stroke="#000" stroke-width="0.95" />
<line x1="546.26" y1="0" x2="546.26" y2="6" stroke="#000" stroke-width="0.95" />
<line x1="546.26" y1="398.7" x2="546.26" y2="410.7" stroke="#000" stroke-width="0.95" />
<line x1="546.26" y1="533.8" x2="546.26" y2="539.8" stroke="#000" stroke-width="0.95" />
<line x1="558.88" y1="0" x2="558.88" y2="6" stroke="#000" stroke-width="0.95" />
<line x1="558.88" y1="398.7" x2="558.88" y2="410.7" stroke="#000" stroke-width="0.95" />
<line x1="558.88" y1="533.8" x2="558.88" y2="539.8" stroke="#000" stroke-width="0.95" />
<text x="571.5" y="560.1" font-family="'Liberation Sans', sans-serif" font-size="22.2" font-weight="normal" font-style="normal" text-anchor="middle" textLength="13.6" lengthAdjust="spacingAndGlyphs" stroke="#000" stroke-width="0.35">4</text>
<line x1="66.8" y1="398.24" x2="72.8" y2="398.24" stroke="#000" stroke-width="0.95" />
<line x1="565.5" y1="398.24" x2="571.5" y2="398.24" stroke="#000" stroke-width="0.95" />
<line x1="66.8" y1="392.61" x2="72.8" y2="392.61" stroke="#000" stroke-width="0.95" />
<line x1="565.5" y1="392.61" x2="571.5" y2="392.61" stroke="#000" stroke-width="0.95" />
<line x1="66.8" y1="387.74" x2="72.8" y2="387.74" stroke="#000" stroke-width="0.95" />
<line x1="565.5" y1="387.74" x2="571.5" y2="387.74" stroke="#000" stroke-width="0.95" />
<line x1="66.8" y1="383.44" x2="72.8" y2="383.44" stroke="#000" stroke-width="0.95" />
<line x1="565.5" y1="383.44" x2="571.5" y2="383.44" stroke="#000" stroke-width="0.95" />
<line x1="66.8" y1="379.6" x2="78.8" y2="379.6" stroke="#000" stroke-width="1" />
<line x1="559.5" y1="379.6" x2="571.5" y2="379.6" stroke="#000" stroke-width="1" />
<line x1="66.8" y1="354.31" x2="72.8" y2="354.31" stroke="#000" stroke-width="0.95" />
<line x1="565.5" y1="354.31" x2="571.5" y2="354.31" stroke="#000" stroke-width="0.95" />
<line x1="66.8" y1="339.52" x2="72.8" y2="339.52" stroke="#000" stroke-width="0.95" />
<line x1="565.5" y1="339.52" x2="571.5" y2="339.52" stroke="#000" stroke-width="0.95" />
<line x1="66.8" y1="329.03" x2="72.8" y2="329.03" stroke="#000" stroke-width="0.95" />
<line x1="565.5" y1="329.03" x2="571.5" y2="329.03" stroke="#000" stroke-width="0.95" />
<line x1="66.8" y1="320.89" x2="72.8" y2="320.89" stroke="#000" stroke-width="0.95" />
<line x1="565.5" y1="320.89" x2="571.5" y2="320.89" stroke="#000" stroke-width="0.95" />
<line x1="66.8" y1="314.24" x2="72.8" y2="314.24" stroke="#000" stroke-width="0.95" />
<line x1="565.5" y1="314.24" x2="571.5" y2="314.24" stroke="#000" stroke-width="0.95" />
<line x1="66.8" y1="308.61" x2="72.8" y2="308.61" stroke="#000" stroke-width="0.95" />
<line x1="565.5" y1="308.61" x2="571.5" y2="308.61" stroke="#000" stroke-width="0.95" />
<line x1="66.8" y1="303.74" x2="72.8" y2="303.74" stroke="#000" stroke-width="0.95" />
<line x1="565.5" y1="303.74" x2="571.5" y2="303.74" stroke="#000" stroke-width="0.95" />
<line x1="66.8" y1="299.44" x2="72.8" y2="299.44" stroke="#000" stroke-width="0.95" />
<line x1="565.5" y1="299.44" x2="571.5" y2="299.44" stroke="#000" stroke-width="0.95" />
<line x1="66.8" y1="295.6" x2="78.8" y2="295.6" stroke="#000" stroke-width="1" />
<line x1="559.5" y1="295.6" x2="571.5" y2="295.6" stroke="#000" stroke-width="1" />
<text x="52.2" y="303.6" font-family="'Liberation Sans', sans-serif" font-size="22.2" font-weight="normal" font-style="normal" text-anchor="end" textLength="27" lengthAdjust="spacingAndGlyphs" stroke="#000" stroke-width="0.35">10</text>
<text x="52.6" y="295.5" font-family="'Liberation Sans', sans-serif" font-size="16" font-weight="normal" font-style="normal" text-anchor="start" textLength="9.2" lengthAdjust="spacingAndGlyphs" stroke="#000" stroke-width="0.35">1</text>
<line x1="66.8" y1="270.31" x2="72.8" y2="270.31" stroke="#000" stroke-width="0.95" />
<line x1="565.5" y1="270.31" x2="571.5" y2="270.31" stroke="#000" stroke-width="0.95" />
<line x1="66.8" y1="255.52" x2="72.8" y2="255.52" stroke="#000" stroke-width="0.95" />
<line x1="565.5" y1="255.52" x2="571.5" y2="255.52" stroke="#000" stroke-width="0.95" />
<line x1="66.8" y1="245.03" x2="72.8" y2="245.03" stroke="#000" stroke-width="0.95" />
<line x1="565.5" y1="245.03" x2="571.5" y2="245.03" stroke="#000" stroke-width="0.95" />
<line x1="66.8" y1="236.89" x2="72.8" y2="236.89" stroke="#000" stroke-width="0.95" />
<line x1="565.5" y1="236.89" x2="571.5" y2="236.89" stroke="#000" stroke-width="0.95" />
<line x1="66.8" y1="230.24" x2="72.8" y2="230.24" stroke="#000" stroke-width="0.95" />
<line x1="565.5" y1="230.24" x2="571.5" y2="230.24" stroke="#000" stroke-width="0.95" />
<line x1="66.8" y1="224.61" x2="72.8" y2="224.61" stroke="#000" stroke-width="0.95" />
<line x1="565.5" y1="224.61" x2="571.5" y2="224.61" stroke="#000" stroke-width="0.95" />
<line x1="66.8" y1="219.74" x2="72.8" y2="219.74" stroke="#000" stroke-width="0.95" />
<line x1="565.5" y1="219.74" x2="571.5" y2="219.74" stroke="#000" stroke-width="0.95" />
<line x1="66.8" y1="215.44" x2="72.8" y2="215.44" stroke="#000" stroke-width="0.95" />
<line x1="565.5" y1="215.44" x2="571.5" y2="215.44" stroke="#000" stroke-width="0.95" />
<line x1="66.8" y1="211.6" x2="78.8" y2="211.6" stroke="#000" stroke-width="1" />
<line x1="559.5" y1="211.6" x2="571.5" y2="211.6" stroke="#000" stroke-width="1" />
<text x="52.2" y="219.6" font-family="'Liberation Sans', sans-serif" font-size="22.2" font-weight="normal" font-style="normal" text-anchor="end" textLength="27" lengthAdjust="spacingAndGlyphs" stroke="#000" stroke-width="0.35">10</text>
<text x="52.6" y="211.5" font-family="'Liberation Sans', sans-serif" font-size="16" font-weight="normal" font-style="normal" text-anchor="start" textLength="9.2" lengthAdjust="spacingAndGlyphs" stroke="#000" stroke-width="0.35">2</text>
<line x1="66.8" y1="186.31" x2="72.8" y2="186.31" stroke="#000" stroke-width="0.95" />
<line x1="565.5" y1="186.31" x2="571.5" y2="186.31" stroke="#000" stroke-width="0.95" />
<line x1="66.8" y1="171.52" x2="72.8" y2="171.52" stroke="#000" stroke-width="0.95" />
<line x1="565.5" y1="171.52" x2="571.5" y2="171.52" stroke="#000" stroke-width="0.95" />
<line x1="66.8" y1="161.03" x2="72.8" y2="161.03" stroke="#000" stroke-width="0.95" />
<line x1="565.5" y1="161.03" x2="571.5" y2="161.03" stroke="#000" stroke-width="0.95" />
<line x1="66.8" y1="152.89" x2="72.8" y2="152.89" stroke="#000" stroke-width="0.95" />
<line x1="565.5" y1="152.89" x2="571.5" y2="152.89" stroke="#000" stroke-width="0.95" />
<line x1="66.8" y1="146.24" x2="72.8" y2="146.24" stroke="#000" stroke-width="0.95" />
<line x1="565.5" y1="146.24" x2="571.5" y2="146.24" stroke="#000" stroke-width="0.95" />
<line x1="66.8" y1="140.61" x2="72.8" y2="140.61" stroke="#000" stroke-width="0.95" />
<line x1="565.5" y1="140.61" x2="571.5" y2="140.61" stroke="#000" stroke-width="0.95" />
<line x1="66.8" y1="135.74" x2="72.8" y2="135.74" stroke="#000" stroke-width="0.95" />
<line x1="565.5" y1="135.74" x2="571.5" y2="135.74" stroke="#000" stroke-width="0.95" />
<line x1="66.8" y1="131.44" x2="72.8" y2="131.44" stroke="#000" stroke-width="0.95" />
<line x1="565.5" y1="131.44" x2="571.5" y2="131.44" stroke="#000" stroke-width="0.95" />
<line x1="66.8" y1="127.6" x2="78.8" y2="127.6" stroke="#000" stroke-width="1" />
<line x1="559.5" y1="127.6" x2="571.5" y2="127.6" stroke="#000" stroke-width="1" />
<text x="52.2" y="135.6" font-family="'Liberation Sans', sans-serif" font-size="22.2" font-weight="normal" font-style="normal" text-anchor="end" textLength="27" lengthAdjust="spacingAndGlyphs" stroke="#000" stroke-width="0.35">10</text>
<text x="52.6" y="127.5" font-family="'Liberation Sans', sans-serif" font-size="16" font-weight="normal" font-style="normal" text-anchor="start" textLength="9.2" lengthAdjust="spacingAndGlyphs" stroke="#000" stroke-width="0.35">3</text>
<line x1="66.8" y1="102.31" x2="72.8" y2="102.31" stroke="#000" stroke-width="0.95" />
<line x1="565.5" y1="102.31" x2="571.5" y2="102.31" stroke="#000" stroke-width="0.95" />
<line x1="66.8" y1="87.52" x2="72.8" y2="87.52" stroke="#000" stroke-width="0.95" />
<line x1="565.5" y1="87.52" x2="571.5" y2="87.52" stroke="#000" stroke-width="0.95" />
<line x1="66.8" y1="77.03" x2="72.8" y2="77.03" stroke="#000" stroke-width="0.95" />
<line x1="565.5" y1="77.03" x2="571.5" y2="77.03" stroke="#000" stroke-width="0.95" />
<line x1="66.8" y1="68.89" x2="72.8" y2="68.89" stroke="#000" stroke-width="0.95" />
<line x1="565.5" y1="68.89" x2="571.5" y2="68.89" stroke="#000" stroke-width="0.95" />
<line x1="66.8" y1="62.24" x2="72.8" y2="62.24" stroke="#000" stroke-width="0.95" />
<line x1="565.5" y1="62.24" x2="571.5" y2="62.24" stroke="#000" stroke-width="0.95" />
<line x1="66.8" y1="56.61" x2="72.8" y2="56.61" stroke="#000" stroke-width="0.95" />
<line x1="565.5" y1="56.61" x2="571.5" y2="56.61" stroke="#000" stroke-width="0.95" />
<line x1="66.8" y1="51.74" x2="72.8" y2="51.74" stroke="#000" stroke-width="0.95" />
<line x1="565.5" y1="51.74" x2="571.5" y2="51.74" stroke="#000" stroke-width="0.95" />
<line x1="66.8" y1="47.44" x2="72.8" y2="47.44" stroke="#000" stroke-width="0.95" />
<line x1="565.5" y1="47.44" x2="571.5" y2="47.44" stroke="#000" stroke-width="0.95" />
<line x1="66.8" y1="43.6" x2="78.8" y2="43.6" stroke="#000" stroke-width="1" />
<line x1="559.5" y1="43.6" x2="571.5" y2="43.6" stroke="#000" stroke-width="1" />
<text x="52.2" y="51.6" font-family="'Liberation Sans', sans-serif" font-size="22.2" font-weight="normal" font-style="normal" text-anchor="end" textLength="27" lengthAdjust="spacingAndGlyphs" stroke="#000" stroke-width="0.35">10</text>
<text x="52.6" y="43.5" font-family="'Liberation Sans', sans-serif" font-size="16" font-weight="normal" font-style="normal" text-anchor="start" textLength="9.2" lengthAdjust="spacingAndGlyphs" stroke="#000" stroke-width="0.35">4</text>
<line x1="66.8" y1="18.31" x2="72.8" y2="18.31" stroke="#000" stroke-width="0.95" />
<line x1="565.5" y1="18.31" x2="571.5" y2="18.31" stroke="#000" stroke-width="0.95" />
<line x1="66.8" y1="3.52" x2="72.8" y2="3.52" stroke="#000" stroke-width="0.95" />
<line x1="565.5" y1="3.52" x2="571.5" y2="3.52" stroke="#000" stroke-width="0.95" />
<line x1="66.8" y1="418.55" x2="78.8" y2="418.55" stroke="#000" stroke-width="1" />
<line x1="559.5" y1="418.55" x2="571.5" y2="418.55" stroke="#000" stroke-width="1" />
<text x="62.4" y="426.75" font-family="'Liberation Sans', sans-serif" font-size="22.2" font-weight="normal" font-style="normal" text-anchor="end" textLength="33" lengthAdjust="spacingAndGlyphs" stroke="#000" stroke-width="0.35">1.4</text>
<line x1="66.8" y1="472.35" x2="78.8" y2="472.35" stroke="#000" stroke-width="1" />
<line x1="559.5" y1="472.35" x2="571.5" y2="472.35" stroke="#000" stroke-width="1" />
<text x="62.4" y="480.55" font-family="'Liberation Sans', sans-serif" font-size="22.2" font-weight="normal" font-style="normal" text-anchor="end" textLength="33" lengthAdjust="spacingAndGlyphs" stroke="#000" stroke-width="0.35">1.0</text>
<line x1="66.8" y1="526.15" x2="78.8" y2="526.15" stroke="#000" stroke-width="1" />
<line x1="559.5" y1="526.15" x2="571.5" y2="526.15" stroke="#000" stroke-width="1" />
<text x="62.4" y="534.35" font-family="'Liberation Sans', sans-serif" font-size="22.2" font-weight="normal" font-style="normal" text-anchor="end" textLength="33" lengthAdjust="spacingAndGlyphs" stroke="#000" stroke-width="0.35">0.6</text>
<rect x="66.8" y="-2" width="504.7" height="541.8" fill="none" stroke="#000" stroke-width="0.9"/>
<line x1="66.8" y1="539.8" x2="571.5" y2="539.8" stroke="#000" stroke-width="1.1" />
<line x1="66.8" y1="404.7" x2="571.5" y2="404.7" stroke="#000" stroke-width="1.05" />
<text x="83" y="36" font-family="'Liberation Sans', sans-serif" font-size="25.4" font-weight="bold" font-style="italic" text-anchor="start" textLength="88.5" lengthAdjust="spacingAndGlyphs" >ATLAS</text>
<text x="177.6" y="36" font-family="'Liberation Sans', sans-serif" font-size="25.4" font-weight="normal" font-style="normal" text-anchor="start" textLength="131" lengthAdjust="spacingAndGlyphs" stroke="#000" stroke-width="0.35">Simulation</text>
<text x="84.3" y="61.7" font-family="'Liberation Sans', sans-serif" font-size="19.4" font-weight="normal" font-style="normal" text-anchor="start" textLength="294" lengthAdjust="spacingAndGlyphs" stroke="#000" stroke-width="0.35"><tspan font-style='italic'>&#947;</tspan>, E = 4 GeV, 0.20 &lt; |<tspan font-style='italic'>&#951;</tspan>| &lt; 0.25</text>
<text x="84.4" y="84.3" font-family="'Liberation Sans', sans-serif" font-size="19.4" font-weight="normal" font-style="normal" text-anchor="start" textLength="184" lengthAdjust="spacingAndGlyphs" stroke="#000" stroke-width="0.35">Detailed Simulation</text>
<line x1="18.2" y1="60.8" x2="1.1" y2="51.2" stroke="#000" stroke-width="1.75" />
<text transform="translate(16.3 157.4) rotate(-90)" font-family="'Liberation Sans', sans-serif" font-size="23.2" stroke="#000" stroke-width="0.35" textLength="93" lengthAdjust="spacingAndGlyphs">Showers</text>
<text transform="translate(16.3 46.3) rotate(-90)" font-family="'Liberation Sans', sans-serif" font-size="23.2" stroke="#000" stroke-width="0.35" textLength="47" lengthAdjust="spacingAndGlyphs">0.16</text>
<text transform="translate(21.2 473.05) rotate(-90)" font-family="'Liberation Sans', sans-serif" font-size="23.4" stroke="#000" stroke-width="0.35" text-anchor="middle" textLength="96" lengthAdjust="spacingAndGlyphs">Sim./Ref.</text>
<text x="522.6" y="585" font-family="'Liberation Sans', sans-serif" font-size="21.8" font-weight="normal" font-style="italic" text-anchor="start" textLength="16.4" lengthAdjust="spacingAndGlyphs" stroke="#000" stroke-width="0.45">w</text>
<text x="538.9" y="588.1" font-family="'Liberation Sans', sans-serif" font-size="16" font-weight="normal" font-style="italic" text-anchor="start" textLength="8" lengthAdjust="spacingAndGlyphs" stroke="#000" stroke-width="0.45">s</text>
<text x="549.9" y="588.1" font-family="'Liberation Sans', sans-serif" font-size="16" font-weight="normal" font-style="italic" text-anchor="start" textLength="20.4" lengthAdjust="spacingAndGlyphs" stroke="#000" stroke-width="0.45">tot</text>
<line x1="426.4" y1="27.3" x2="448" y2="27.3" stroke="#000" stroke-width="1.6" />
<line x1="437.2" y1="17.1" x2="437.2" y2="37.5" stroke="#000" stroke-width="1.6" />
<circle cx="437.2" cy="27.3" r="3.9" fill="#000"/>
<text x="475.8" y="34.5" font-family="'Liberation Sans', sans-serif" font-size="21.7" font-weight="normal" font-style="normal" text-anchor="start" textLength="76.5" lengthAdjust="spacingAndGlyphs" stroke="#000" stroke-width="0.35">Geant4</text>
<rect x="415.8" y="51" width="43" height="14.4" fill="url(#hr1)"/>
<line x1="415.8" y1="58" x2="458.8" y2="58" stroke="#e82a0c" stroke-width="1.5" />
<text x="475.8" y="65.2" font-family="'Liberation Sans', sans-serif" font-size="21.7" font-weight="normal" font-style="normal" text-anchor="start" textLength="41" lengthAdjust="spacingAndGlyphs" stroke="#000" stroke-width="0.35">VAE</text>
<rect x="415.8" y="82.3" width="43" height="14.4" fill="url(#hb1)"/>
<line x1="415.8" y1="89.5" x2="458.8" y2="89.5" stroke="#188bea" stroke-width="1.5" />
<text x="475.8" y="96" font-family="'Liberation Sans', sans-serif" font-size="21.7" font-weight="normal" font-style="normal" text-anchor="start" textLength="45.5" lengthAdjust="spacingAndGlyphs" stroke="#000" stroke-width="0.35">GAN</text>
<text x="287.7" y="622.5" font-family="'Liberation Serif', serif" font-size="26.6" font-weight="normal" font-style="normal" text-anchor="middle" stroke="#000" stroke-width="0.35">(a)</text>
<defs>
<pattern id="hr2" patternUnits="userSpaceOnUse" width="7" height="7" patternTransform="translate(3.5 0)"><path d="M-1 8L8 -1M-1 1L1 -1M6 8L8 6" stroke="#e82a0c" stroke-width="1.42" fill="none" stroke-linecap="square"/></pattern>
<pattern id="hb2" patternUnits="userSpaceOnUse" width="7" height="7" patternTransform="translate(6.5 0)"><path d="M-1 -1L8 8M-1 6L1 8M6 -1L8 1" stroke="#188bea" stroke-width="1.42" fill="none" stroke-linecap="square"/></pattern>
<pattern id="hk2" patternUnits="userSpaceOnUse" width="7" height="7" patternTransform="translate(3.5 0)"><path d="M-1 8L8 -1M-1 1L1 -1M6 8L8 6" stroke="#000" stroke-width="1.45" fill="none" stroke-linecap="square"/></pattern>
</defs>
<clipPath id="cm2"><rect x="689.8" y="0" width="504.7" height="404.5"/></clipPath>
<clipPath id="cr2"><rect x="689.8" y="404.7" width="504.7" height="134.5"/></clipPath>
<g clip-path="url(#cm2)">
<path d="M689.5 434.7V188.5H709.5V380.5H730.5V318.5H750.5V292.5H770.5V280.5H790.5V260.5H810.5V234.5H831.5V205.5H851.5V173.5H871.5V137.5H891.5V128.5H911.5V155.5H932.5V195.5H952.5V210.5H972.5V220.5H992.5V233.5H1012.5V251.5H1032.5V263.5H1053.5V266.5H1073.5V278.5H1093.5V269.5H1113.5V273.5H1133.5V297.5H1154.5V287.5H1174.5V218.5H1194.5V434.7" fill="none" stroke="#d63a24" stroke-width="1.08" stroke-linejoin="miter"/>
<path d="M689.5 434.7V265.5H709.5V454.5H730.5V342.5H750.5V325.5H770.5V292.5H790.5V287.5H810.5V247.5H831.5V209.5H851.5V168.5H871.5V143.5H891.5V133.5H911.5V142.5H932.5V163.5H952.5V190.5H972.5V217.5H992.5V235.5H1012.5V262.5H1032.5V277.5H1053.5V297.5H1073.5V318.5H1093.5V332.5H1113.5V325.5H1133.5V332.5H1154.5V342.5H1174.5V342.5H1194.5V434.7" fill="none" stroke="#3c95da" stroke-width="1.08" stroke-linejoin="miter"/>
<line x1="689.8" y1="186.69" x2="709.99" y2="186.69" stroke="#000" stroke-width="1.6" />
<line x1="699.89" y1="184.68" x2="699.89" y2="188.83" stroke="#000" stroke-width="1.6" />
<circle cx="699.89" cy="186.69" r="3.6" fill="#000"/>
<line x1="709.99" y1="342.62" x2="730.18" y2="342.62" stroke="#000" stroke-width="1.6" />
<line x1="720.08" y1="326.9" x2="720.08" y2="372.31" stroke="#000" stroke-width="1.6" />
<circle cx="720.08" cy="342.62" r="3.6" fill="#000"/>
<line x1="730.18" y1="294.81" x2="750.36" y2="294.81" stroke="#000" stroke-width="1.6" />
<line x1="740.27" y1="286.07" x2="740.27" y2="306.56" stroke="#000" stroke-width="1.6" />
<circle cx="740.27" cy="294.81" r="3.6" fill="#000"/>
<line x1="750.36" y1="278.97" x2="770.55" y2="278.97" stroke="#000" stroke-width="1.6" />
<line x1="760.46" y1="271.84" x2="760.46" y2="287.95" stroke="#000" stroke-width="1.6" />
<circle cx="760.46" cy="278.97" r="3.6" fill="#000"/>
<line x1="770.55" y1="256.93" x2="790.74" y2="256.93" stroke="#000" stroke-width="1.6" />
<line x1="780.65" y1="251.61" x2="780.65" y2="263.22" stroke="#000" stroke-width="1.6" />
<circle cx="780.65" cy="256.93" r="3.6" fill="#000"/>
<line x1="790.74" y1="245.6" x2="810.93" y2="245.6" stroke="#000" stroke-width="1.6" />
<line x1="800.83" y1="241.04" x2="800.83" y2="250.86" stroke="#000" stroke-width="1.6" />
<circle cx="800.83" cy="245.6" r="3.6" fill="#000"/>
<line x1="810.93" y1="224.2" x2="831.12" y2="224.2" stroke="#000" stroke-width="1.6" />
<line x1="821.02" y1="220.8" x2="821.02" y2="227.98" stroke="#000" stroke-width="1.6" />
<circle cx="821.02" cy="224.2" r="3.6" fill="#000"/>
<line x1="831.12" y1="194.83" x2="851.3" y2="194.83" stroke="#000" stroke-width="1.6" />
<line x1="841.21" y1="192.57" x2="841.21" y2="197.24" stroke="#000" stroke-width="1.6" />
<circle cx="841.21" cy="194.83" r="3.6" fill="#000"/>
<line x1="851.3" y1="156.37" x2="871.49" y2="156.37" stroke="#000" stroke-width="1.6" />
<line x1="861.4" y1="155.06" x2="861.4" y2="157.73" stroke="#000" stroke-width="1.6" />
<circle cx="861.4" cy="156.37" r="3.6" fill="#000"/>
<line x1="871.49" y1="132.41" x2="891.68" y2="132.41" stroke="#000" stroke-width="1.6" />
<line x1="881.59" y1="131.48" x2="881.59" y2="133.37" stroke="#000" stroke-width="1.6" />
<circle cx="881.59" cy="132.41" r="3.6" fill="#000"/>
<line x1="891.68" y1="128.5" x2="911.87" y2="128.5" stroke="#000" stroke-width="1.6" />
<line x1="901.77" y1="127.62" x2="901.77" y2="129.41" stroke="#000" stroke-width="1.6" />
<circle cx="901.77" cy="128.5" r="3.6" fill="#000"/>
<line x1="911.87" y1="158.78" x2="932.06" y2="158.78" stroke="#000" stroke-width="1.6" />
<line x1="921.96" y1="157.43" x2="921.96" y2="160.2" stroke="#000" stroke-width="1.6" />
<circle cx="921.96" cy="158.78" r="3.6" fill="#000"/>
<line x1="932.06" y1="210.1" x2="952.24" y2="210.1" stroke="#000" stroke-width="1.6" />
<line x1="942.15" y1="207.3" x2="942.15" y2="213.14" stroke="#000" stroke-width="1.6" />
<circle cx="942.15" cy="210.1" r="3.6" fill="#000"/>
<line x1="952.24" y1="247.74" x2="972.43" y2="247.74" stroke="#000" stroke-width="1.6" />
<line x1="962.34" y1="243.04" x2="962.34" y2="253.17" stroke="#000" stroke-width="1.6" />
<circle cx="962.34" cy="247.74" r="3.6" fill="#000"/>
<line x1="972.43" y1="273.91" x2="992.62" y2="273.91" stroke="#000" stroke-width="1.6" />
<line x1="982.53" y1="267.25" x2="982.53" y2="282.18" stroke="#000" stroke-width="1.6" />
<circle cx="982.53" cy="273.91" r="3.6" fill="#000"/>
<line x1="992.62" y1="294.81" x2="1012.81" y2="294.81" stroke="#000" stroke-width="1.6" />
<line x1="1002.71" y1="286.07" x2="1002.71" y2="306.56" stroke="#000" stroke-width="1.6" />
<circle cx="1002.71" cy="294.81" r="3.6" fill="#000"/>
<line x1="1012.81" y1="325" x2="1033" y2="325" stroke="#000" stroke-width="1.6" />
<line x1="1022.9" y1="312.26" x2="1022.9" y2="345.44" stroke="#000" stroke-width="1.6" />
<circle cx="1022.9" cy="325" r="3.6" fill="#000"/>
<line x1="1033" y1="356.6" x2="1053.18" y2="356.6" stroke="#000" stroke-width="1.6" />
<line x1="1043.09" y1="338.16" x2="1043.09" y2="398.94" stroke="#000" stroke-width="1.6" />
<circle cx="1043.09" cy="356.6" r="3.6" fill="#000"/>
<line x1="1053.18" y1="301.1" x2="1073.37" y2="301.1" stroke="#000" stroke-width="1.6" />
<line x1="1063.28" y1="291.63" x2="1063.28" y2="314.21" stroke="#000" stroke-width="1.6" />
<circle cx="1063.28" cy="301.1" r="3.6" fill="#000"/>
<line x1="1073.37" y1="325" x2="1093.56" y2="325" stroke="#000" stroke-width="1.6" />
<line x1="1083.47" y1="312.26" x2="1083.47" y2="345.44" stroke="#000" stroke-width="1.6" />
<circle cx="1083.47" cy="325" r="3.6" fill="#000"/>
<line x1="1093.56" y1="342.62" x2="1113.75" y2="342.62" stroke="#000" stroke-width="1.6" />
<line x1="1103.65" y1="326.9" x2="1103.65" y2="372.31" stroke="#000" stroke-width="1.6" />
<circle cx="1103.65" cy="342.62" r="3.6" fill="#000"/>
<line x1="1113.75" y1="342.62" x2="1133.94" y2="342.62" stroke="#000" stroke-width="1.6" />
<line x1="1123.84" y1="326.9" x2="1123.84" y2="372.31" stroke="#000" stroke-width="1.6" />
<circle cx="1123.84" cy="342.62" r="3.6" fill="#000"/>
<line x1="1133.94" y1="342.62" x2="1154.12" y2="342.62" stroke="#000" stroke-width="1.6" />
<line x1="1144.03" y1="326.9" x2="1144.03" y2="372.31" stroke="#000" stroke-width="1.6" />
<circle cx="1144.03" cy="342.62" r="3.6" fill="#000"/>
<line x1="1154.12" y1="342.62" x2="1174.31" y2="342.62" stroke="#000" stroke-width="1.6" />
<line x1="1164.22" y1="326.9" x2="1164.22" y2="372.31" stroke="#000" stroke-width="1.6" />
<circle cx="1164.22" cy="342.62" r="3.6" fill="#000"/>
<line x1="1174.31" y1="255.98" x2="1194.5" y2="255.98" stroke="#000" stroke-width="1.6" />
<line x1="1184.41" y1="250.74" x2="1184.41" y2="262.18" stroke="#000" stroke-width="1.6" />
<circle cx="1184.41" cy="255.98" r="3.6" fill="#000"/>
<path d="M709.99 356.6H730.18V424.7H709.99ZM730.18 306.91H750.36V336.81H730.18ZM750.36 283.61H770.55V303.25H750.36ZM770.55 273.53H790.74V290.1H770.55ZM790.74 255.38H810.93V267.7H790.74ZM810.93 230.58H831.12V238.92H810.93ZM831.12 202.87H851.3V208.33H831.12ZM851.3 172.05H871.49V175.49H851.3ZM871.49 136.78H891.68V138.82H871.49ZM891.68 127.21H911.87V128.99H891.68ZM911.87 154.3H932.06V156.95H911.87ZM932.06 192.87H952.24V197.57H932.06ZM952.24 207.78H972.43V213.66H952.24ZM972.43 216.81H992.62V223.56H972.43ZM992.62 229.64H1012.81V237.87H992.62ZM1012.81 246.67H1033V257.39H1012.81ZM1033 257.43H1053.18V270.17H1033ZM1053.18 260.78H1073.37V274.22H1053.18ZM1073.37 271.84H1093.56V287.95H1073.37ZM1093.56 263.22H1113.75V277.2H1093.56ZM1113.75 267.25H1133.94V282.18H1113.75ZM1133.94 288.73H1154.12V310.19H1133.94ZM1154.12 279.2H1174.31V297.42H1154.12ZM1174.31 215.27H1194.5V221.87H1174.31Z" fill="url(#hr2)"/>
<path d="M730.18 326.9H750.36V372.31H730.18ZM750.36 312.26H770.55V345.44H750.36ZM770.55 283.61H790.74V303.25H770.55ZM790.74 279.2H810.93V297.42H790.74ZM810.93 243.04H831.12V253.17H810.93ZM831.12 207.06H851.3V212.89H831.12ZM851.3 167.14H871.49V170.34H851.3ZM871.49 142.09H891.68V144.3H871.49ZM891.68 132.84H911.87V134.77H891.68ZM911.87 141.57H932.06V143.76H911.87ZM932.06 162.54H952.24V165.52H932.06ZM952.24 188.12H972.43V192.5H952.24ZM972.43 214.68H992.62V221.21H972.43ZM992.62 231.54H1012.81V240H992.62ZM1012.81 256.39H1033V268.91H1012.81ZM1033 270.24H1053.18V285.93H1033ZM1053.18 288.73H1073.37V310.19H1053.18ZM1073.37 306.91H1093.56V336.81H1073.37ZM1093.56 318.71H1113.75V356.6H1093.56ZM1113.75 312.26H1133.94V345.44H1113.75ZM1133.94 318.71H1154.12V356.6H1133.94ZM1154.12 326.9H1174.31V372.31H1154.12ZM1174.31 326.9H1194.5V372.31H1174.31Z" fill="url(#hb2)"/>
</g>
<g clip-path="url(#cr2)">
<path d="M709.99 394.7H730.18V550H709.99ZM730.18 433.52H750.36V511.18H730.18ZM750.36 441.49H770.55V503.21H750.36ZM770.55 449.93H790.74V494.77H770.55ZM790.74 453.33H810.93V491.37H790.74ZM810.93 458.4H831.12V486.3H810.93ZM831.12 463.24H851.3V481.46H831.12ZM851.3 467.13H871.49V477.57H851.3ZM871.49 468.66H891.68V476.04H871.49ZM891.68 468.87H911.87V475.83H891.68ZM911.87 466.95H932.06V477.75H911.87ZM932.06 460.98H952.24V483.72H932.06ZM952.24 452.73H972.43V491.97H952.24ZM972.43 443.67H992.62V501.03H972.43ZM992.62 433.52H1012.81V511.18H992.62ZM1012.81 412.2H1033V532.5H1012.81ZM1033 377.24H1053.18V567.46H1033ZM1053.18 429.82H1073.37V514.88H1053.18ZM1073.37 412.2H1093.56V532.5H1073.37ZM1093.56 394.7H1113.75V550H1093.56ZM1113.75 394.7H1133.94V550H1113.75ZM1133.94 394.7H1154.12V550H1133.94ZM1154.12 394.7H1174.31V550H1154.12ZM1174.31 450.24H1194.5V494.46H1174.31Z" fill="url(#hk2)"/>
<line x1="689.8" y1="472.35" x2="1194.5" y2="472.35" stroke="#000" stroke-width="0.9" stroke-dasharray="3.7 1.6"/>
<path d="M718.48 536.88l-4.1 -8h8.2z" fill="#ff2200"/>
<path d="M940.55 407.83l4.1 8h-8.2z" fill="#ff2200"/>
<path d="M960.74 407.83l4.1 8h-8.2z" fill="#ff2200"/>
<path d="M980.93 407.83l4.1 8h-8.2z" fill="#ff2200"/>
<path d="M1001.11 407.83l4.1 8h-8.2z" fill="#ff2200"/>
<path d="M1021.3 407.83l4.1 8h-8.2z" fill="#ff2200"/>
<path d="M1041.49 407.83l4.1 8h-8.2z" fill="#ff2200"/>
<path d="M1061.68 407.83l4.1 8h-8.2z" fill="#ff2200"/>
<path d="M1081.87 407.83l4.1 8h-8.2z" fill="#ff2200"/>
<path d="M1102.05 407.83l4.1 8h-8.2z" fill="#ff2200"/>
<path d="M1122.24 407.83l4.1 8h-8.2z" fill="#ff2200"/>
<path d="M1142.43 407.83l4.1 8h-8.2z" fill="#ff2200"/>
<path d="M1162.62 407.83l4.1 8h-8.2z" fill="#ff2200"/>
<path d="M1182.81 407.83l4.1 8h-8.2z" fill="#ff2200"/>
<path d="M700.99 536.88l-4.1 -8h8.2z" fill="#1493ff"/>
<path d="M721.18 536.88l-4.1 -8h8.2z" fill="#1493ff"/>
<path d="M741.37 536.88l-4.1 -8h8.2z" fill="#1493ff"/>
<path d="M761.56 536.88l-4.1 -8h8.2z" fill="#1493ff"/>
<path d="M781.75 536.88l-4.1 -8h8.2z" fill="#1493ff"/>
<path d="M801.93 536.88l-4.1 -8h8.2z" fill="#1493ff"/>
<path d="M923.06 407.83l4.1 8h-8.2z" fill="#1493ff"/>
<path d="M943.25 407.83l4.1 8h-8.2z" fill="#1493ff"/>
<path d="M963.44 407.83l4.1 8h-8.2z" fill="#1493ff"/>
<path d="M983.63 407.83l4.1 8h-8.2z" fill="#1493ff"/>
<path d="M1003.81 407.83l4.1 8h-8.2z" fill="#1493ff"/>
<path d="M1024 407.83l4.1 8h-8.2z" fill="#1493ff"/>
<path d="M1044.19 407.83l4.1 8h-8.2z" fill="#1493ff"/>
<path d="M1124.94 407.83l4.1 8h-8.2z" fill="#1493ff"/>
<path d="M1185.51 536.88l-4.1 -8h8.2z" fill="#1493ff"/>
<line x1="689.8" y1="479.17" x2="709.99" y2="479.17" stroke="#ff2200" stroke-width="1.6" />
<rect x="695.99" y="475.27" width="7.8" height="7.8" fill="#ff2200"/>
<line x1="709.99" y1="562.02" x2="730.18" y2="562.02" stroke="#ff2200" stroke-width="1.6" />
<line x1="720.08" y1="517.18" x2="720.08" y2="566.5" stroke="#ff2200" stroke-width="1.6" />
<rect x="716.18" y="558.12" width="7.8" height="7.8" fill="#ff2200"/>
<line x1="730.18" y1="539.6" x2="750.36" y2="539.6" stroke="#ff2200" stroke-width="1.6" />
<line x1="740.27" y1="512.15" x2="740.27" y2="566.5" stroke="#ff2200" stroke-width="1.6" />
<rect x="736.37" y="535.7" width="7.8" height="7.8" fill="#ff2200"/>
<line x1="750.36" y1="514.82" x2="770.55" y2="514.82" stroke="#ff2200" stroke-width="1.6" />
<line x1="760.46" y1="489.3" x2="760.46" y2="540.35" stroke="#ff2200" stroke-width="1.6" />
<rect x="756.56" y="510.92" width="7.8" height="7.8" fill="#ff2200"/>
<line x1="770.55" y1="539.6" x2="790.74" y2="539.6" stroke="#ff2200" stroke-width="1.6" />
<line x1="780.65" y1="523.75" x2="780.65" y2="555.45" stroke="#ff2200" stroke-width="1.6" />
<rect x="776.75" y="535.7" width="7.8" height="7.8" fill="#ff2200"/>
<line x1="790.74" y1="520.77" x2="810.93" y2="520.77" stroke="#ff2200" stroke-width="1.6" />
<line x1="800.83" y1="505.55" x2="800.83" y2="535.99" stroke="#ff2200" stroke-width="1.6" />
<rect x="796.93" y="516.87" width="7.8" height="7.8" fill="#ff2200"/>
<line x1="810.93" y1="507.06" x2="831.12" y2="507.06" stroke="#ff2200" stroke-width="1.6" />
<line x1="821.02" y1="495.05" x2="821.02" y2="519.07" stroke="#ff2200" stroke-width="1.6" />
<rect x="817.12" y="503.16" width="7.8" height="7.8" fill="#ff2200"/>
<line x1="831.12" y1="508.13" x2="851.3" y2="508.13" stroke="#ff2200" stroke-width="1.6" />
<line x1="841.21" y1="500.33" x2="841.21" y2="515.94" stroke="#ff2200" stroke-width="1.6" />
<rect x="837.31" y="504.23" width="7.8" height="7.8" fill="#ff2200"/>
<line x1="851.3" y1="525.54" x2="871.49" y2="525.54" stroke="#ff2200" stroke-width="1.6" />
<line x1="861.4" y1="521.49" x2="861.4" y2="529.6" stroke="#ff2200" stroke-width="1.6" />
<rect x="857.5" y="521.64" width="7.8" height="7.8" fill="#ff2200"/>
<line x1="871.49" y1="491.74" x2="891.68" y2="491.74" stroke="#ff2200" stroke-width="1.6" />
<line x1="881.59" y1="488.33" x2="881.59" y2="495.15" stroke="#ff2200" stroke-width="1.6" />
<rect x="877.69" y="487.84" width="7.8" height="7.8" fill="#ff2200"/>
<line x1="891.68" y1="470.73" x2="911.87" y2="470.73" stroke="#ff2200" stroke-width="1.6" />
<line x1="901.77" y1="467.22" x2="901.77" y2="474.23" stroke="#ff2200" stroke-width="1.6" />
<rect x="897.87" y="466.83" width="7.8" height="7.8" fill="#ff2200"/>
<line x1="911.87" y1="459.33" x2="932.06" y2="459.33" stroke="#ff2200" stroke-width="1.6" />
<line x1="921.96" y1="453.68" x2="921.96" y2="464.99" stroke="#ff2200" stroke-width="1.6" />
<rect x="918.06" y="455.43" width="7.8" height="7.8" fill="#ff2200"/>
<line x1="932.06" y1="399.34" x2="952.24" y2="399.34" stroke="#ff2200" stroke-width="1.6" />
<line x1="942.15" y1="385.22" x2="942.15" y2="413.46" stroke="#ff2200" stroke-width="1.6" />
<rect x="938.25" y="395.44" width="7.8" height="7.8" fill="#ff2200"/>
<line x1="770.55" y1="558.28" x2="790.74" y2="558.28" stroke="#1493ff" stroke-width="1.6" />
<line x1="780.65" y1="544.81" x2="780.65" y2="566.5" stroke="#1493ff" stroke-width="1.6" />
<path d="M780.65 552.88l5.4 5.4l-5.4 5.4l-5.4 -5.4z" fill="#1493ff"/>
<line x1="810.93" y1="538.88" x2="831.12" y2="538.88" stroke="#1493ff" stroke-width="1.6" />
<line x1="821.02" y1="528.96" x2="821.02" y2="548.79" stroke="#1493ff" stroke-width="1.6" />
<path d="M821.02 533.48l5.4 5.4l-5.4 5.4l-5.4 -5.4z" fill="#1493ff"/>
<line x1="831.12" y1="519.86" x2="851.3" y2="519.86" stroke="#1493ff" stroke-width="1.6" />
<line x1="841.21" y1="512.53" x2="841.21" y2="527.18" stroke="#1493ff" stroke-width="1.6" />
<path d="M841.21 514.46l5.4 5.4l-5.4 5.4l-5.4 -5.4z" fill="#1493ff"/>
<line x1="851.3" y1="512.8" x2="871.49" y2="512.8" stroke="#1493ff" stroke-width="1.6" />
<line x1="861.4" y1="508.44" x2="861.4" y2="517.16" stroke="#1493ff" stroke-width="1.6" />
<path d="M861.4 507.4l5.4 5.4l-5.4 5.4l-5.4 -5.4z" fill="#1493ff"/>
<line x1="871.49" y1="508.4" x2="891.68" y2="508.4" stroke="#1493ff" stroke-width="1.6" />
<line x1="881.59" y1="505.25" x2="881.59" y2="511.55" stroke="#1493ff" stroke-width="1.6" />
<path d="M881.59 503l5.4 5.4l-5.4 5.4l-5.4 -5.4z" fill="#1493ff"/>
<line x1="891.68" y1="491.46" x2="911.87" y2="491.46" stroke="#1493ff" stroke-width="1.6" />
<line x1="901.77" y1="488.24" x2="901.77" y2="494.69" stroke="#1493ff" stroke-width="1.6" />
<path d="M901.77 486.06l5.4 5.4l-5.4 5.4l-5.4 -5.4z" fill="#1493ff"/>
<line x1="911.87" y1="392.08" x2="932.06" y2="392.08" stroke="#1493ff" stroke-width="1.6" />
<line x1="921.96" y1="385.26" x2="921.96" y2="398.91" stroke="#1493ff" stroke-width="1.6" />
<path d="M921.96 386.68l5.4 5.4l-5.4 5.4l-5.4 -5.4z" fill="#1493ff"/>
<line x1="1053.18" y1="458.9" x2="1073.37" y2="458.9" stroke="#1493ff" stroke-width="1.6" />
<line x1="1063.28" y1="414.29" x2="1063.28" y2="503.51" stroke="#1493ff" stroke-width="1.6" />
<path d="M1063.28 453.5l5.4 5.4l-5.4 5.4l-5.4 -5.4z" fill="#1493ff"/>
<line x1="1073.37" y1="445.45" x2="1093.56" y2="445.45" stroke="#1493ff" stroke-width="1.6" />
<line x1="1083.47" y1="379.56" x2="1083.47" y2="511.34" stroke="#1493ff" stroke-width="1.6" />
<path d="M1083.47 440.05l5.4 5.4l-5.4 5.4l-5.4 -5.4z" fill="#1493ff"/>
<line x1="1093.56" y1="427.52" x2="1113.75" y2="427.52" stroke="#1493ff" stroke-width="1.6" />
<line x1="1103.65" y1="378.2" x2="1103.65" y2="517.18" stroke="#1493ff" stroke-width="1.6" />
<path d="M1103.65 422.12l5.4 5.4l-5.4 5.4l-5.4 -5.4z" fill="#1493ff"/>
<line x1="1113.75" y1="382.68" x2="1133.94" y2="382.68" stroke="#1493ff" stroke-width="1.6" />
<line x1="1123.84" y1="378.2" x2="1123.84" y2="482.93" stroke="#1493ff" stroke-width="1.6" />
<path d="M1123.84 377.28l5.4 5.4l-5.4 5.4l-5.4 -5.4z" fill="#1493ff"/>
<line x1="1133.94" y1="427.52" x2="1154.12" y2="427.52" stroke="#1493ff" stroke-width="1.6" />
<line x1="1144.03" y1="378.2" x2="1144.03" y2="517.18" stroke="#1493ff" stroke-width="1.6" />
<path d="M1144.03 422.12l5.4 5.4l-5.4 5.4l-5.4 -5.4z" fill="#1493ff"/>
<line x1="1154.12" y1="472.35" x2="1174.31" y2="472.35" stroke="#1493ff" stroke-width="1.6" />
<line x1="1164.22" y1="394.7" x2="1164.22" y2="550" stroke="#1493ff" stroke-width="1.6" />
<path d="M1164.22 466.95l5.4 5.4l-5.4 5.4l-5.4 -5.4z" fill="#1493ff"/>
</g>
<text x="689.8" y="560.1" font-family="'Liberation Sans', sans-serif" font-size="22.2" font-weight="normal" font-style="normal" text-anchor="middle" textLength="13.6" lengthAdjust="spacingAndGlyphs" stroke="#000" stroke-width="0.35">0</text>
<line x1="702.42" y1="0" x2="702.42" y2="6" stroke="#000" stroke-width="0.95" />
<line x1="702.42" y1="398.7" x2="702.42" y2="410.7" stroke="#000" stroke-width="0.95" />
<line x1="702.42" y1="533.8" x2="702.42" y2="539.8" stroke="#000" stroke-width="0.95" />
<line x1="715.03" y1="0" x2="715.03" y2="6" stroke="#000" stroke-width="0.95" />
<line x1="715.03" y1="398.7" x2="715.03" y2="410.7" stroke="#000" stroke-width="0.95" />
<line x1="715.03" y1="533.8" x2="715.03" y2="539.8" stroke="#000" stroke-width="0.95" />
<line x1="727.65" y1="0" x2="727.65" y2="6" stroke="#000" stroke-width="0.95" />
<line x1="727.65" y1="398.7" x2="727.65" y2="410.7" stroke="#000" stroke-width="0.95" />
<line x1="727.65" y1="533.8" x2="727.65" y2="539.8" stroke="#000" stroke-width="0.95" />
<line x1="740.27" y1="0" x2="740.27" y2="6" stroke="#000" stroke-width="0.95" />
<line x1="740.27" y1="398.7" x2="740.27" y2="410.7" stroke="#000" stroke-width="0.95" />
<line x1="740.27" y1="533.8" x2="740.27" y2="539.8" stroke="#000" stroke-width="0.95" />
<line x1="752.89" y1="0" x2="752.89" y2="12" stroke="#000" stroke-width="1" />
<line x1="752.89" y1="392.7" x2="752.89" y2="416.7" stroke="#000" stroke-width="1" />
<line x1="752.89" y1="527.8" x2="752.89" y2="539.8" stroke="#000" stroke-width="1" />
<text x="752.89" y="560.1" font-family="'Liberation Sans', sans-serif" font-size="22.2" font-weight="normal" font-style="normal" text-anchor="middle" textLength="34" lengthAdjust="spacingAndGlyphs" stroke="#000" stroke-width="0.35">0.5</text>
<line x1="765.5" y1="0" x2="765.5" y2="6" stroke="#000" stroke-width="0.95" />
<line x1="765.5" y1="398.7" x2="765.5" y2="410.7" stroke="#000" stroke-width="0.95" />
<line x1="765.5" y1="533.8" x2="765.5" y2="539.8" stroke="#000" stroke-width="0.95" />
<line x1="778.12" y1="0" x2="778.12" y2="6" stroke="#000" stroke-width="0.95" />
<line x1="778.12" y1="398.7" x2="778.12" y2="410.7" stroke="#000" stroke-width="0.95" />
<line x1="778.12" y1="533.8" x2="778.12" y2="539.8" stroke="#000" stroke-width="0.95" />
<line x1="790.74" y1="0" x2="790.74" y2="6" stroke="#000" stroke-width="0.95" />
<line x1="790.74" y1="398.7" x2="790.74" y2="410.7" stroke="#000" stroke-width="0.95" />
<line x1="790.74" y1="533.8" x2="790.74" y2="539.8" stroke="#000" stroke-width="0.95" />
<line x1="803.36" y1="0" x2="803.36" y2="6" stroke="#000" stroke-width="0.95" />
<line x1="803.36" y1="398.7" x2="803.36" y2="410.7" stroke="#000" stroke-width="0.95" />
<line x1="803.36" y1="533.8" x2="803.36" y2="539.8" stroke="#000" stroke-width="0.95" />
<line x1="815.97" y1="0" x2="815.97" y2="12" stroke="#000" stroke-width="1" />
<line x1="815.97" y1="392.7" x2="815.97" y2="416.7" stroke="#000" stroke-width="1" />
<line x1="815.97" y1="527.8" x2="815.97" y2="539.8" stroke="#000" stroke-width="1" />
<text x="815.97" y="560.1" font-family="'Liberation Sans', sans-serif" font-size="22.2" font-weight="normal" font-style="normal" text-anchor="middle" textLength="13.6" lengthAdjust="spacingAndGlyphs" stroke="#000" stroke-width="0.35">1</text>
<line x1="828.59" y1="0" x2="828.59" y2="6" stroke="#000" stroke-width="0.95" />
<line x1="828.59" y1="398.7" x2="828.59" y2="410.7" stroke="#000" stroke-width="0.95" />
<line x1="828.59" y1="533.8" x2="828.59" y2="539.8" stroke="#000" stroke-width="0.95" />
<line x1="841.21" y1="0" x2="841.21" y2="6" stroke="#000" stroke-width="0.95" />
<line x1="841.21" y1="398.7" x2="841.21" y2="410.7" stroke="#000" stroke-width="0.95" />
<line x1="841.21" y1="533.8" x2="841.21" y2="539.8" stroke="#000" stroke-width="0.95" />
<line x1="853.83" y1="0" x2="853.83" y2="6" stroke="#000" stroke-width="0.95" />
<line x1="853.83" y1="398.7" x2="853.83" y2="410.7" stroke="#000" stroke-width="0.95" />
<line x1="853.83" y1="533.8" x2="853.83" y2="539.8" stroke="#000" stroke-width="0.95" />
<line x1="866.44" y1="0" x2="866.44" y2="6" stroke="#000" stroke-width="0.95" />
<line x1="866.44" y1="398.7" x2="866.44" y2="410.7" stroke="#000" stroke-width="0.95" />
<line x1="866.44" y1="533.8" x2="866.44" y2="539.8" stroke="#000" stroke-width="0.95" />
<line x1="879.06" y1="0" x2="879.06" y2="12" stroke="#000" stroke-width="1" />
<line x1="879.06" y1="392.7" x2="879.06" y2="416.7" stroke="#000" stroke-width="1" />
<line x1="879.06" y1="527.8" x2="879.06" y2="539.8" stroke="#000" stroke-width="1" />
<text x="879.06" y="560.1" font-family="'Liberation Sans', sans-serif" font-size="22.2" font-weight="normal" font-style="normal" text-anchor="middle" textLength="34" lengthAdjust="spacingAndGlyphs" stroke="#000" stroke-width="0.35">1.5</text>
<line x1="891.68" y1="0" x2="891.68" y2="6" stroke="#000" stroke-width="0.95" />
<line x1="891.68" y1="398.7" x2="891.68" y2="410.7" stroke="#000" stroke-width="0.95" />
<line x1="891.68" y1="533.8" x2="891.68" y2="539.8" stroke="#000" stroke-width="0.95" />
<line x1="904.3" y1="0" x2="904.3" y2="6" stroke="#000" stroke-width="0.95" />
<line x1="904.3" y1="398.7" x2="904.3" y2="410.7" stroke="#000" stroke-width="0.95" />
<line x1="904.3" y1="533.8" x2="904.3" y2="539.8" stroke="#000" stroke-width="0.95" />
<line x1="916.91" y1="0" x2="916.91" y2="6" stroke="#000" stroke-width="0.95" />
<line x1="916.91" y1="398.7" x2="916.91" y2="410.7" stroke="#000" stroke-width="0.95" />
<line x1="916.91" y1="533.8" x2="916.91" y2="539.8" stroke="#000" stroke-width="0.95" />
<line x1="929.53" y1="0" x2="929.53" y2="6" stroke="#000" stroke-width="0.95" />
<line x1="929.53" y1="398.7" x2="929.53" y2="410.7" stroke="#000" stroke-width="0.95" />
<line x1="929.53" y1="533.8" x2="929.53" y2="539.8" stroke="#000" stroke-width="0.95" />
<line x1="942.15" y1="0" x2="942.15" y2="12" stroke="#000" stroke-width="1" />
<line x1="942.15" y1="392.7" x2="942.15" y2="416.7" stroke="#000" stroke-width="1" />
<line x1="942.15" y1="527.8" x2="942.15" y2="539.8" stroke="#000" stroke-width="1" />
<text x="942.15" y="560.1" font-family="'Liberation Sans', sans-serif" font-size="22.2" font-weight="normal" font-style="normal" text-anchor="middle" textLength="13.6" lengthAdjust="spacingAndGlyphs" stroke="#000" stroke-width="0.35">2</text>
<line x1="954.77" y1="0" x2="954.77" y2="6" stroke="#000" stroke-width="0.95" />
<line x1="954.77" y1="398.7" x2="954.77" y2="410.7" stroke="#000" stroke-width="0.95" />
<line x1="954.77" y1="533.8" x2="954.77" y2="539.8" stroke="#000" stroke-width="0.95" />
<line x1="967.38" y1="0" x2="967.38" y2="6" stroke="#000" stroke-width="0.95" />
<line x1="967.38" y1="398.7" x2="967.38" y2="410.7" stroke="#000" stroke-width="0.95" />
<line x1="967.38" y1="533.8" x2="967.38" y2="539.8" stroke="#000" stroke-width="0.95" />
<line x1="980" y1="0" x2="980" y2="6" stroke="#000" stroke-width="0.95" />
<line x1="980" y1="398.7" x2="980" y2="410.7" stroke="#000" stroke-width="0.95" />
<line x1="980" y1="533.8" x2="980" y2="539.8" stroke="#000" stroke-width="0.95" />
<line x1="992.62" y1="0" x2="992.62" y2="6" stroke="#000" stroke-width="0.95" />
<line x1="992.62" y1="398.7" x2="992.62" y2="410.7" stroke="#000" stroke-width="0.95" />
<line x1="992.62" y1="533.8" x2="992.62" y2="539.8" stroke="#000" stroke-width="0.95" />
<line x1="1005.24" y1="0" x2="1005.24" y2="12" stroke="#000" stroke-width="1" />
<line x1="1005.24" y1="392.7" x2="1005.24" y2="416.7" stroke="#000" stroke-width="1" />
<line x1="1005.24" y1="527.8" x2="1005.24" y2="539.8" stroke="#000" stroke-width="1" />
<text x="1005.24" y="560.1" font-family="'Liberation Sans', sans-serif" font-size="22.2" font-weight="normal" font-style="normal" text-anchor="middle" textLength="34" lengthAdjust="spacingAndGlyphs" stroke="#000" stroke-width="0.35">2.5</text>
<line x1="1017.86" y1="0" x2="1017.86" y2="6" stroke="#000" stroke-width="0.95" />
<line x1="1017.86" y1="398.7" x2="1017.86" y2="410.7" stroke="#000" stroke-width="0.95" />
<line x1="1017.86" y1="533.8" x2="1017.86" y2="539.8" stroke="#000" stroke-width="0.95" />
<line x1="1030.47" y1="0" x2="1030.47" y2="6" stroke="#000" stroke-width="0.95" />
<line x1="1030.47" y1="398.7" x2="1030.47" y2="410.7" stroke="#000" stroke-width="0.95" />
<line x1="1030.47" y1="533.8" x2="1030.47" y2="539.8" stroke="#000" stroke-width="0.95" />
<line x1="1043.09" y1="0" x2="1043.09" y2="6" stroke="#000" stroke-width="0.95" />
<line x1="1043.09" y1="398.7" x2="1043.09" y2="410.7" stroke="#000" stroke-width="0.95" />
<line x1="1043.09" y1="533.8" x2="1043.09" y2="539.8" stroke="#000" stroke-width="0.95" />
<line x1="1055.71" y1="0" x2="1055.71" y2="6" stroke="#000" stroke-width="0.95" />
<line x1="1055.71" y1="398.7" x2="1055.71" y2="410.7" stroke="#000" stroke-width="0.95" />
<line x1="1055.71" y1="533.8" x2="1055.71" y2="539.8" stroke="#000" stroke-width="0.95" />
<line x1="1068.32" y1="0" x2="1068.32" y2="12" stroke="#000" stroke-width="1" />
<line x1="1068.32" y1="392.7" x2="1068.32" y2="416.7" stroke="#000" stroke-width="1" />
<line x1="1068.32" y1="527.8" x2="1068.32" y2="539.8" stroke="#000" stroke-width="1" />
<text x="1068.32" y="560.1" font-family="'Liberation Sans', sans-serif" font-size="22.2" font-weight="normal" font-style="normal" text-anchor="middle" textLength="13.6" lengthAdjust="spacingAndGlyphs" stroke="#000" stroke-width="0.35">3</text>
<line x1="1080.94" y1="0" x2="1080.94" y2="6" stroke="#000" stroke-width="0.95" />
<line x1="1080.94" y1="398.7" x2="1080.94" y2="410.7" stroke="#000" stroke-width="0.95" />
<line x1="1080.94" y1="533.8" x2="1080.94" y2="539.8" stroke="#000" stroke-width="0.95" />
<line x1="1093.56" y1="0" x2="1093.56" y2="6" stroke="#000" stroke-width="0.95" />
<line x1="1093.56" y1="398.7" x2="1093.56" y2="410.7" stroke="#000" stroke-width="0.95" />
<line x1="1093.56" y1="533.8" x2="1093.56" y2="539.8" stroke="#000" stroke-width="0.95" />
<line x1="1106.18" y1="0" x2="1106.18" y2="6" stroke="#000" stroke-width="0.95" />
<line x1="1106.18" y1="398.7" x2="1106.18" y2="410.7" stroke="#000" stroke-width="0.95" />
<line x1="1106.18" y1="533.8" x2="1106.18" y2="539.8" stroke="#000" stroke-width="0.95" />
<line x1="1118.8" y1="0" x2="1118.8" y2="6" stroke="#000" stroke-width="0.95" />
<line x1="1118.8" y1="398.7" x2="1118.8" y2="410.7" stroke="#000" stroke-width="0.95" />
<line x1="1118.8" y1="533.8" x2="1118.8" y2="539.8" stroke="#000" stroke-width="0.95" />
<line x1="1131.41" y1="0" x2="1131.41" y2="12" stroke="#000" stroke-width="1" />
<line x1="1131.41" y1="392.7" x2="1131.41" y2="416.7" stroke="#000" stroke-width="1" />
<line x1="1131.41" y1="527.8" x2="1131.41" y2="539.8" stroke="#000" stroke-width="1" />
<text x="1131.41" y="560.1" font-family="'Liberation Sans', sans-serif" font-size="22.2" font-weight="normal" font-style="normal" text-anchor="middle" textLength="34" lengthAdjust="spacingAndGlyphs" stroke="#000" stroke-width="0.35">3.5</text>
<line x1="1144.03" y1="0" x2="1144.03" y2="6" stroke="#000" stroke-width="0.95" />
<line x1="1144.03" y1="398.7" x2="1144.03" y2="410.7" stroke="#000" stroke-width="0.95" />
<line x1="1144.03" y1="533.8" x2="1144.03" y2="539.8" stroke="#000" stroke-width="0.95" />
<line x1="1156.65" y1="0" x2="1156.65" y2="6" stroke="#000" stroke-width="0.95" />
<line x1="1156.65" y1="398.7" x2="1156.65" y2="410.7" stroke="#000" stroke-width="0.95" />
<line x1="1156.65" y1="533.8" x2="1156.65" y2="539.8" stroke="#000" stroke-width="0.95" />
<line x1="1169.26" y1="0" x2="1169.26" y2="6" stroke="#000" stroke-width="0.95" />
<line x1="1169.26" y1="398.7" x2="1169.26" y2="410.7" stroke="#000" stroke-width="0.95" />
<line x1="1169.26" y1="533.8" x2="1169.26" y2="539.8" stroke="#000" stroke-width="0.95" />
<line x1="1181.88" y1="0" x2="1181.88" y2="6" stroke="#000" stroke-width="0.95" />
<line x1="1181.88" y1="398.7" x2="1181.88" y2="410.7" stroke="#000" stroke-width="0.95" />
<line x1="1181.88" y1="533.8" x2="1181.88" y2="539.8" stroke="#000" stroke-width="0.95" />
<text x="1194.5" y="560.1" font-family="'Liberation Sans', sans-serif" font-size="22.2" font-weight="normal" font-style="normal" text-anchor="middle" textLength="13.6" lengthAdjust="spacingAndGlyphs" stroke="#000" stroke-width="0.35">4</text>
<line x1="689.8" y1="398.11" x2="695.8" y2="398.11" stroke="#000" stroke-width="0.95" />
<line x1="1188.5" y1="398.11" x2="1194.5" y2="398.11" stroke="#000" stroke-width="0.95" />
<line x1="689.8" y1="392.8" x2="695.8" y2="392.8" stroke="#000" stroke-width="0.95" />
<line x1="1188.5" y1="392.8" x2="1194.5" y2="392.8" stroke="#000" stroke-width="0.95" />
<line x1="689.8" y1="388.19" x2="695.8" y2="388.19" stroke="#000" stroke-width="0.95" />
<line x1="1188.5" y1="388.19" x2="1194.5" y2="388.19" stroke="#000" stroke-width="0.95" />
<line x1="689.8" y1="384.13" x2="695.8" y2="384.13" stroke="#000" stroke-width="0.95" />
<line x1="1188.5" y1="384.13" x2="1194.5" y2="384.13" stroke="#000" stroke-width="0.95" />
<line x1="689.8" y1="380.5" x2="701.8" y2="380.5" stroke="#000" stroke-width="1" />
<line x1="1182.5" y1="380.5" x2="1194.5" y2="380.5" stroke="#000" stroke-width="1" />
<line x1="689.8" y1="356.6" x2="695.8" y2="356.6" stroke="#000" stroke-width="0.95" />
<line x1="1188.5" y1="356.6" x2="1194.5" y2="356.6" stroke="#000" stroke-width="0.95" />
<line x1="689.8" y1="342.62" x2="695.8" y2="342.62" stroke="#000" stroke-width="0.95" />
<line x1="1188.5" y1="342.62" x2="1194.5" y2="342.62" stroke="#000" stroke-width="0.95" />
<line x1="689.8" y1="332.7" x2="695.8" y2="332.7" stroke="#000" stroke-width="0.95" />
<line x1="1188.5" y1="332.7" x2="1194.5" y2="332.7" stroke="#000" stroke-width="0.95" />
<line x1="689.8" y1="325" x2="695.8" y2="325" stroke="#000" stroke-width="0.95" />
<line x1="1188.5" y1="325" x2="1194.5" y2="325" stroke="#000" stroke-width="0.95" />
<line x1="689.8" y1="318.71" x2="695.8" y2="318.71" stroke="#000" stroke-width="0.95" />
<line x1="1188.5" y1="318.71" x2="1194.5" y2="318.71" stroke="#000" stroke-width="0.95" />
<line x1="689.8" y1="313.4" x2="695.8" y2="313.4" stroke="#000" stroke-width="0.95" />
<line x1="1188.5" y1="313.4" x2="1194.5" y2="313.4" stroke="#000" stroke-width="0.95" />
<line x1="689.8" y1="308.79" x2="695.8" y2="308.79" stroke="#000" stroke-width="0.95" />
<line x1="1188.5" y1="308.79" x2="1194.5" y2="308.79" stroke="#000" stroke-width="0.95" />
<line x1="689.8" y1="304.73" x2="695.8" y2="304.73" stroke="#000" stroke-width="0.95" />
<line x1="1188.5" y1="304.73" x2="1194.5" y2="304.73" stroke="#000" stroke-width="0.95" />
<line x1="689.8" y1="301.1" x2="701.8" y2="301.1" stroke="#000" stroke-width="1" />
<line x1="1182.5" y1="301.1" x2="1194.5" y2="301.1" stroke="#000" stroke-width="1" />
<text x="675.2" y="309.1" font-family="'Liberation Sans', sans-serif" font-size="22.2" font-weight="normal" font-style="normal" text-anchor="end" textLength="27" lengthAdjust="spacingAndGlyphs" stroke="#000" stroke-width="0.35">10</text>
<text x="675.6" y="301" font-family="'Liberation Sans', sans-serif" font-size="16" font-weight="normal" font-style="normal" text-anchor="start" textLength="9.2" lengthAdjust="spacingAndGlyphs" stroke="#000" stroke-width="0.35">1</text>
<line x1="689.8" y1="277.2" x2="695.8" y2="277.2" stroke="#000" stroke-width="0.95" />
<line x1="1188.5" y1="277.2" x2="1194.5" y2="277.2" stroke="#000" stroke-width="0.95" />
<line x1="689.8" y1="263.22" x2="695.8" y2="263.22" stroke="#000" stroke-width="0.95" />
<line x1="1188.5" y1="263.22" x2="1194.5" y2="263.22" stroke="#000" stroke-width="0.95" />
<line x1="689.8" y1="253.3" x2="695.8" y2="253.3" stroke="#000" stroke-width="0.95" />
<line x1="1188.5" y1="253.3" x2="1194.5" y2="253.3" stroke="#000" stroke-width="0.95" />
<line x1="689.8" y1="245.6" x2="695.8" y2="245.6" stroke="#000" stroke-width="0.95" />
<line x1="1188.5" y1="245.6" x2="1194.5" y2="245.6" stroke="#000" stroke-width="0.95" />
<line x1="689.8" y1="239.31" x2="695.8" y2="239.31" stroke="#000" stroke-width="0.95" />
<line x1="1188.5" y1="239.31" x2="1194.5" y2="239.31" stroke="#000" stroke-width="0.95" />
<line x1="689.8" y1="234" x2="695.8" y2="234" stroke="#000" stroke-width="0.95" />
<line x1="1188.5" y1="234" x2="1194.5" y2="234" stroke="#000" stroke-width="0.95" />
<line x1="689.8" y1="229.39" x2="695.8" y2="229.39" stroke="#000" stroke-width="0.95" />
<line x1="1188.5" y1="229.39" x2="1194.5" y2="229.39" stroke="#000" stroke-width="0.95" />
<line x1="689.8" y1="225.33" x2="695.8" y2="225.33" stroke="#000" stroke-width="0.95" />
<line x1="1188.5" y1="225.33" x2="1194.5" y2="225.33" stroke="#000" stroke-width="0.95" />
<line x1="689.8" y1="221.7" x2="701.8" y2="221.7" stroke="#000" stroke-width="1" />
<line x1="1182.5" y1="221.7" x2="1194.5" y2="221.7" stroke="#000" stroke-width="1" />
<text x="675.2" y="229.7" font-family="'Liberation Sans', sans-serif" font-size="22.2" font-weight="normal" font-style="normal" text-anchor="end" textLength="27" lengthAdjust="spacingAndGlyphs" stroke="#000" stroke-width="0.35">10</text>
<text x="675.6" y="221.6" font-family="'Liberation Sans', sans-serif" font-size="16" font-weight="normal" font-style="normal" text-anchor="start" textLength="9.2" lengthAdjust="spacingAndGlyphs" stroke="#000" stroke-width="0.35">2</text>
<line x1="689.8" y1="197.8" x2="695.8" y2="197.8" stroke="#000" stroke-width="0.95" />
<line x1="1188.5" y1="197.8" x2="1194.5" y2="197.8" stroke="#000" stroke-width="0.95" />
<line x1="689.8" y1="183.82" x2="695.8" y2="183.82" stroke="#000" stroke-width="0.95" />
<line x1="1188.5" y1="183.82" x2="1194.5" y2="183.82" stroke="#000" stroke-width="0.95" />
<line x1="689.8" y1="173.9" x2="695.8" y2="173.9" stroke="#000" stroke-width="0.95" />
<line x1="1188.5" y1="173.9" x2="1194.5" y2="173.9" stroke="#000" stroke-width="0.95" />
<line x1="689.8" y1="166.2" x2="695.8" y2="166.2" stroke="#000" stroke-width="0.95" />
<line x1="1188.5" y1="166.2" x2="1194.5" y2="166.2" stroke="#000" stroke-width="0.95" />
<line x1="689.8" y1="159.91" x2="695.8" y2="159.91" stroke="#000" stroke-width="0.95" />
<line x1="1188.5" y1="159.91" x2="1194.5" y2="159.91" stroke="#000" stroke-width="0.95" />
<line x1="689.8" y1="154.6" x2="695.8" y2="154.6" stroke="#000" stroke-width="0.95" />
<line x1="1188.5" y1="154.6" x2="1194.5" y2="154.6" stroke="#000" stroke-width="0.95" />
<line x1="689.8" y1="149.99" x2="695.8" y2="149.99" stroke="#000" stroke-width="0.95" />
<line x1="1188.5" y1="149.99" x2="1194.5" y2="149.99" stroke="#000" stroke-width="0.95" />
<line x1="689.8" y1="145.93" x2="695.8" y2="145.93" stroke="#000" stroke-width="0.95" />
<line x1="1188.5" y1="145.93" x2="1194.5" y2="145.93" stroke="#000" stroke-width="0.95" />
<line x1="689.8" y1="142.3" x2="701.8" y2="142.3" stroke="#000" stroke-width="1" />
<line x1="1182.5" y1="142.3" x2="1194.5" y2="142.3" stroke="#000" stroke-width="1" />
<text x="675.2" y="150.3" font-family="'Liberation Sans', sans-serif" font-size="22.2" font-weight="normal" font-style="normal" text-anchor="end" textLength="27" lengthAdjust="spacingAndGlyphs" stroke="#000" stroke-width="0.35">10</text>
<text x="675.6" y="142.2" font-family="'Liberation Sans', sans-serif" font-size="16" font-weight="normal" font-style="normal" text-anchor="start" textLength="9.2" lengthAdjust="spacingAndGlyphs" stroke="#000" stroke-width="0.35">3</text>
<line x1="689.8" y1="118.4" x2="695.8" y2="118.4" stroke="#000" stroke-width="0.95" />
<line x1="1188.5" y1="118.4" x2="1194.5" y2="118.4" stroke="#000" stroke-width="0.95" />
<line x1="689.8" y1="104.42" x2="695.8" y2="104.42" stroke="#000" stroke-width="0.95" />
<line x1="1188.5" y1="104.42" x2="1194.5" y2="104.42" stroke="#000" stroke-width="0.95" />
<line x1="689.8" y1="94.5" x2="695.8" y2="94.5" stroke="#000" stroke-width="0.95" />
<line x1="1188.5" y1="94.5" x2="1194.5" y2="94.5" stroke="#000" stroke-width="0.95" />
<line x1="689.8" y1="86.8" x2="695.8" y2="86.8" stroke="#000" stroke-width="0.95" />
<line x1="1188.5" y1="86.8" x2="1194.5" y2="86.8" stroke="#000" stroke-width="0.95" />
<line x1="689.8" y1="80.51" x2="695.8" y2="80.51" stroke="#000" stroke-width="0.95" />
<line x1="1188.5" y1="80.51" x2="1194.5" y2="80.51" stroke="#000" stroke-width="0.95" />
<line x1="689.8" y1="75.2" x2="695.8" y2="75.2" stroke="#000" stroke-width="0.95" />
<line x1="1188.5" y1="75.2" x2="1194.5" y2="75.2" stroke="#000" stroke-width="0.95" />
<line x1="689.8" y1="70.59" x2="695.8" y2="70.59" stroke="#000" stroke-width="0.95" />
<line x1="1188.5" y1="70.59" x2="1194.5" y2="70.59" stroke="#000" stroke-width="0.95" />
<line x1="689.8" y1="66.53" x2="695.8" y2="66.53" stroke="#000" stroke-width="0.95" />
<line x1="1188.5" y1="66.53" x2="1194.5" y2="66.53" stroke="#000" stroke-width="0.95" />
<line x1="689.8" y1="62.9" x2="701.8" y2="62.9" stroke="#000" stroke-width="1" />
<line x1="1182.5" y1="62.9" x2="1194.5" y2="62.9" stroke="#000" stroke-width="1" />
<text x="675.2" y="70.9" font-family="'Liberation Sans', sans-serif" font-size="22.2" font-weight="normal" font-style="normal" text-anchor="end" textLength="27" lengthAdjust="spacingAndGlyphs" stroke="#000" stroke-width="0.35">10</text>
<text x="675.6" y="62.8" font-family="'Liberation Sans', sans-serif" font-size="16" font-weight="normal" font-style="normal" text-anchor="start" textLength="9.2" lengthAdjust="spacingAndGlyphs" stroke="#000" stroke-width="0.35">4</text>
<line x1="689.8" y1="39" x2="695.8" y2="39" stroke="#000" stroke-width="0.95" />
<line x1="1188.5" y1="39" x2="1194.5" y2="39" stroke="#000" stroke-width="0.95" />
<line x1="689.8" y1="25.02" x2="695.8" y2="25.02" stroke="#000" stroke-width="0.95" />
<line x1="1188.5" y1="25.02" x2="1194.5" y2="25.02" stroke="#000" stroke-width="0.95" />
<line x1="689.8" y1="15.1" x2="695.8" y2="15.1" stroke="#000" stroke-width="0.95" />
<line x1="1188.5" y1="15.1" x2="1194.5" y2="15.1" stroke="#000" stroke-width="0.95" />
<line x1="689.8" y1="7.4" x2="695.8" y2="7.4" stroke="#000" stroke-width="0.95" />
<line x1="1188.5" y1="7.4" x2="1194.5" y2="7.4" stroke="#000" stroke-width="0.95" />
<line x1="689.8" y1="1.11" x2="695.8" y2="1.11" stroke="#000" stroke-width="0.95" />
<line x1="1188.5" y1="1.11" x2="1194.5" y2="1.11" stroke="#000" stroke-width="0.95" />
<line x1="689.8" y1="418.55" x2="701.8" y2="418.55" stroke="#000" stroke-width="1" />
<line x1="1182.5" y1="418.55" x2="1194.5" y2="418.55" stroke="#000" stroke-width="1" />
<text x="685.4" y="426.75" font-family="'Liberation Sans', sans-serif" font-size="22.2" font-weight="normal" font-style="normal" text-anchor="end" textLength="33" lengthAdjust="spacingAndGlyphs" stroke="#000" stroke-width="0.35">1.4</text>
<line x1="689.8" y1="472.35" x2="701.8" y2="472.35" stroke="#000" stroke-width="1" />
<line x1="1182.5" y1="472.35" x2="1194.5" y2="472.35" stroke="#000" stroke-width="1" />
<text x="685.4" y="480.55" font-family="'Liberation Sans', sans-serif" font-size="22.2" font-weight="normal" font-style="normal" text-anchor="end" textLength="33" lengthAdjust="spacingAndGlyphs" stroke="#000" stroke-width="0.35">1.0</text>
<line x1="689.8" y1="526.15" x2="701.8" y2="526.15" stroke="#000" stroke-width="1" />
<line x1="1182.5" y1="526.15" x2="1194.5" y2="526.15" stroke="#000" stroke-width="1" />
<text x="685.4" y="534.35" font-family="'Liberation Sans', sans-serif" font-size="22.2" font-weight="normal" font-style="normal" text-anchor="end" textLength="33" lengthAdjust="spacingAndGlyphs" stroke="#000" stroke-width="0.35">0.6</text>
<rect x="689.8" y="0" width="504.7" height="539.8" fill="none" stroke="#000" stroke-width="0.9"/>
<line x1="689.8" y1="539.8" x2="1194.5" y2="539.8" stroke="#000" stroke-width="1.1" />
<line x1="689.8" y1="0" x2="1194.5" y2="0" stroke="#000" stroke-width="1.1" />
<line x1="689.8" y1="404.7" x2="1194.5" y2="404.7" stroke="#000" stroke-width="1.05" />
<text x="706" y="36" font-family="'Liberation Sans', sans-serif" font-size="25.4" font-weight="bold" font-style="italic" text-anchor="start" textLength="88.5" lengthAdjust="spacingAndGlyphs" >ATLAS</text>
<text x="800.6" y="36" font-family="'Liberation Sans', sans-serif" font-size="25.4" font-weight="normal" font-style="normal" text-anchor="start" textLength="131" lengthAdjust="spacingAndGlyphs" stroke="#000" stroke-width="0.35">Simulation</text>
<text x="707.3" y="61.7" font-family="'Liberation Sans', sans-serif" font-size="19.4" font-weight="normal" font-style="normal" text-anchor="start" textLength="306" lengthAdjust="spacingAndGlyphs" stroke="#000" stroke-width="0.35"><tspan font-style='italic'>&#947;</tspan>, E = 65 GeV, 0.20 &lt; |<tspan font-style='italic'>&#951;</tspan>| &lt; 0.25</text>
<text x="707.4" y="84.3" font-family="'Liberation Sans', sans-serif" font-size="19.4" font-weight="normal" font-style="normal" text-anchor="start" textLength="184" lengthAdjust="spacingAndGlyphs" stroke="#000" stroke-width="0.35">Detailed Simulation</text>
<line x1="641.2" y1="60.8" x2="624.1" y2="51.2" stroke="#000" stroke-width="1.75" />
<text transform="translate(639.3 157.4) rotate(-90)" font-family="'Liberation Sans', sans-serif" font-size="23.2" stroke="#000" stroke-width="0.35" textLength="93" lengthAdjust="spacingAndGlyphs">Showers</text>
<text transform="translate(639.3 46.3) rotate(-90)" font-family="'Liberation Sans', sans-serif" font-size="23.2" stroke="#000" stroke-width="0.35" textLength="47" lengthAdjust="spacingAndGlyphs">0.16</text>
<text transform="translate(644.2 473.05) rotate(-90)" font-family="'Liberation Sans', sans-serif" font-size="23.4" stroke="#000" stroke-width="0.35" text-anchor="middle" textLength="96" lengthAdjust="spacingAndGlyphs">Sim./Ref.</text>
<text x="1145.6" y="585" font-family="'Liberation Sans', sans-serif" font-size="21.8" font-weight="normal" font-style="italic" text-anchor="start" textLength="16.4" lengthAdjust="spacingAndGlyphs" stroke="#000" stroke-width="0.45">w</text>
<text x="1161.9" y="588.1" font-family="'Liberation Sans', sans-serif" font-size="16" font-weight="normal" font-style="italic" text-anchor="start" textLength="8" lengthAdjust="spacingAndGlyphs" stroke="#000" stroke-width="0.45">s</text>
<text x="1172.9" y="588.1" font-family="'Liberation Sans', sans-serif" font-size="16" font-weight="normal" font-style="italic" text-anchor="start" textLength="20.4" lengthAdjust="spacingAndGlyphs" stroke="#000" stroke-width="0.45">tot</text>
<line x1="1049.4" y1="27.3" x2="1071" y2="27.3" stroke="#000" stroke-width="1.6" />
<line x1="1060.2" y1="17.1" x2="1060.2" y2="37.5" stroke="#000" stroke-width="1.6" />
<circle cx="1060.2" cy="27.3" r="3.9" fill="#000"/>
<text x="1098.8" y="34.5" font-family="'Liberation Sans', sans-serif" font-size="21.7" font-weight="normal" font-style="normal" text-anchor="start" textLength="76.5" lengthAdjust="spacingAndGlyphs" stroke="#000" stroke-width="0.35">Geant4</text>
<rect x="1038.8" y="51" width="43" height="14.4" fill="url(#hr2)"/>
<line x1="1038.8" y1="58" x2="1081.8" y2="58" stroke="#e82a0c" stroke-width="1.5" />
<text x="1098.8" y="65.2" font-family="'Liberation Sans', sans-serif" font-size="21.7" font-weight="normal" font-style="normal" text-anchor="start" textLength="41" lengthAdjust="spacingAndGlyphs" stroke="#000" stroke-width="0.35">VAE</text>
<rect x="1038.8" y="82.3" width="43" height="14.4" fill="url(#hb2)"/>
<line x1="1038.8" y1="89.5" x2="1081.8" y2="89.5" stroke="#188bea" stroke-width="1.5" />
<text x="1098.8" y="96" font-family="'Liberation Sans', sans-serif" font-size="21.7" font-weight="normal" font-style="normal" text-anchor="start" textLength="45.5" lengthAdjust="spacingAndGlyphs" stroke="#000" stroke-width="0.35">GAN</text>
<text x="910.7" y="622.5" font-family="'Liberation Serif', serif" font-size="26.6" font-weight="normal" font-style="normal" text-anchor="middle" stroke="#000" stroke-width="0.35">(b)</text>
<defs>
<pattern id="hr3" patternUnits="userSpaceOnUse" width="7" height="7" patternTransform="translate(0 0)"><path d="M-1 8L8 -1M-1 1L1 -1M6 8L8 6" stroke="#e82a0c" stroke-width="1.42" fill="none" stroke-linecap="square"/></pattern>
<pattern id="hb3" patternUnits="userSpaceOnUse" width="7" height="7" patternTransform="translate(4.4 0)"><path d="M-1 -1L8 8M-1 6L1 8M6 -1L8 1" stroke="#188bea" stroke-width="1.42" fill="none" stroke-linecap="square"/></pattern>
<pattern id="hk3" patternUnits="userSpaceOnUse" width="7" height="7" patternTransform="translate(0 0)"><path d="M-1 8L8 -1M-1 1L1 -1M6 8L8 6" stroke="#000" stroke-width="1.45" fill="none" stroke-linecap="square"/></pattern>
</defs>
<clipPath id="cm3"><rect x="399.6" y="678" width="504.7" height="404.5"/></clipPath>
<clipPath id="cr3"><rect x="399.6" y="1082.7" width="504.7" height="134.5"/></clipPath>
<g clip-path="url(#cm3)">
<path d="M399.5 1112.7V902.5H419.5V1036.5H439.5V1059.5H460.5V994.5H480.5V982.5H500.5V953.5H520.5V913.5H540.5V853.5H561.5V801.5H581.5V816.5H601.5V879.5H621.5V905.5H641.5V922.5H662.5V942.5H682.5V962.5H702.5V964.5H722.5V971.5H742.5V973.5H762.5V959.5H783.5V962.5H803.5V979.5H823.5V994.5H843.5V1005.5H863.5V989.5H884.5V923.5H904.5V1112.7" fill="none" stroke="#d63a24" stroke-width="1.08" stroke-linejoin="miter"/>
<path d="M399.5 1112.7V1132.5H419.5V1132.5H439.5V1132.5H460.5V1059.5H480.5V1013.5H500.5V973.5H520.5V929.5H540.5V882.5H561.5V832.5H581.5V816.5H601.5V823.5H621.5V842.5H641.5V869.5H662.5V890.5H682.5V918.5H702.5V943.5H722.5V962.5H742.5V1005.5H762.5V982.5H783.5V1059.5H803.5V1005.5H823.5V1036.5H843.5V1022.5H863.5V1059.5H884.5V1132.5H904.5V1112.7" fill="none" stroke="#3c95da" stroke-width="1.08" stroke-linejoin="miter"/>
<line x1="399.6" y1="884.18" x2="419.79" y2="884.18" stroke="#000" stroke-width="1.6" />
<line x1="409.69" y1="881.84" x2="409.69" y2="886.69" stroke="#000" stroke-width="1.6" />
<circle cx="409.69" cy="884.18" r="3.6" fill="#000"/>
<line x1="439.98" y1="985.97" x2="460.16" y2="985.97" stroke="#000" stroke-width="1.6" />
<line x1="450.07" y1="976.36" x2="450.07" y2="999.5" stroke="#000" stroke-width="1.6" />
<circle cx="450.07" cy="985.97" r="3.6" fill="#000"/>
<line x1="460.16" y1="985.97" x2="480.35" y2="985.97" stroke="#000" stroke-width="1.6" />
<line x1="470.26" y1="976.36" x2="470.26" y2="999.5" stroke="#000" stroke-width="1.6" />
<circle cx="470.26" cy="985.97" r="3.6" fill="#000"/>
<line x1="480.35" y1="956.13" x2="500.54" y2="956.13" stroke="#000" stroke-width="1.6" />
<line x1="490.45" y1="949.68" x2="490.45" y2="964.14" stroke="#000" stroke-width="1.6" />
<circle cx="490.45" cy="956.13" r="3.6" fill="#000"/>
<line x1="500.54" y1="928.07" x2="520.73" y2="928.07" stroke="#000" stroke-width="1.6" />
<line x1="510.63" y1="923.7" x2="510.63" y2="933.11" stroke="#000" stroke-width="1.6" />
<circle cx="510.63" cy="928.07" r="3.6" fill="#000"/>
<line x1="520.73" y1="889.29" x2="540.92" y2="889.29" stroke="#000" stroke-width="1.6" />
<line x1="530.82" y1="886.78" x2="530.82" y2="892.02" stroke="#000" stroke-width="1.6" />
<circle cx="530.82" cy="889.29" r="3.6" fill="#000"/>
<line x1="540.92" y1="835.87" x2="561.1" y2="835.87" stroke="#000" stroke-width="1.6" />
<line x1="551.01" y1="834.71" x2="551.01" y2="837.06" stroke="#000" stroke-width="1.6" />
<circle cx="551.01" cy="835.87" r="3.6" fill="#000"/>
<line x1="561.1" y1="802.59" x2="581.29" y2="802.59" stroke="#000" stroke-width="1.6" />
<line x1="571.2" y1="801.88" x2="571.2" y2="803.31" stroke="#000" stroke-width="1.6" />
<circle cx="571.2" cy="802.59" r="3.6" fill="#000"/>
<line x1="581.29" y1="819.94" x2="601.48" y2="819.94" stroke="#000" stroke-width="1.6" />
<line x1="591.39" y1="819.03" x2="591.39" y2="820.88" stroke="#000" stroke-width="1.6" />
<circle cx="591.39" cy="819.94" r="3.6" fill="#000"/>
<line x1="601.48" y1="892.52" x2="621.67" y2="892.52" stroke="#000" stroke-width="1.6" />
<line x1="611.57" y1="889.88" x2="611.57" y2="895.38" stroke="#000" stroke-width="1.6" />
<circle cx="611.57" cy="892.52" r="3.6" fill="#000"/>
<line x1="621.67" y1="943.63" x2="641.86" y2="943.63" stroke="#000" stroke-width="1.6" />
<line x1="631.76" y1="938.2" x2="631.76" y2="950.12" stroke="#000" stroke-width="1.6" />
<circle cx="631.76" cy="943.63" r="3.6" fill="#000"/>
<line x1="641.86" y1="948.09" x2="662.04" y2="948.09" stroke="#000" stroke-width="1.6" />
<line x1="651.95" y1="942.31" x2="651.95" y2="955.08" stroke="#000" stroke-width="1.6" />
<circle cx="651.95" cy="948.09" r="3.6" fill="#000"/>
<line x1="662.04" y1="957.69" x2="682.23" y2="957.69" stroke="#000" stroke-width="1.6" />
<line x1="672.14" y1="951.1" x2="672.14" y2="965.9" stroke="#000" stroke-width="1.6" />
<circle cx="672.14" cy="957.69" r="3.6" fill="#000"/>
<line x1="682.23" y1="968.92" x2="702.42" y2="968.92" stroke="#000" stroke-width="1.6" />
<line x1="692.33" y1="961.25" x2="692.33" y2="978.89" stroke="#000" stroke-width="1.6" />
<circle cx="692.33" cy="968.92" r="3.6" fill="#000"/>
<line x1="702.42" y1="979.27" x2="722.61" y2="979.27" stroke="#000" stroke-width="1.6" />
<line x1="712.51" y1="970.47" x2="712.51" y2="991.25" stroke="#000" stroke-width="1.6" />
<circle cx="712.51" cy="979.27" r="3.6" fill="#000"/>
<line x1="722.61" y1="1005.58" x2="742.8" y2="1005.58" stroke="#000" stroke-width="1.6" />
<line x1="732.7" y1="993.25" x2="732.7" y2="1025.37" stroke="#000" stroke-width="1.6" />
<circle cx="732.7" cy="1005.58" r="3.6" fill="#000"/>
<line x1="742.8" y1="994.35" x2="762.98" y2="994.35" stroke="#000" stroke-width="1.6" />
<line x1="752.89" y1="983.65" x2="752.89" y2="1010.2" stroke="#000" stroke-width="1.6" />
<circle cx="752.89" cy="994.35" r="3.6" fill="#000"/>
<line x1="762.98" y1="1005.58" x2="783.17" y2="1005.58" stroke="#000" stroke-width="1.6" />
<line x1="773.08" y1="993.25" x2="773.08" y2="1025.37" stroke="#000" stroke-width="1.6" />
<circle cx="773.08" cy="1005.58" r="3.6" fill="#000"/>
<line x1="783.17" y1="1013.03" x2="803.36" y2="1013.03" stroke="#000" stroke-width="1.6" />
<line x1="793.27" y1="999.5" x2="793.27" y2="1036.17" stroke="#000" stroke-width="1.6" />
<circle cx="793.27" cy="1013.03" r="3.6" fill="#000"/>
<line x1="803.36" y1="999.5" x2="823.55" y2="999.5" stroke="#000" stroke-width="1.6" />
<line x1="813.45" y1="988.07" x2="813.45" y2="1017.01" stroke="#000" stroke-width="1.6" />
<circle cx="813.45" cy="999.5" r="3.6" fill="#000"/>
<line x1="823.55" y1="1036.17" x2="843.74" y2="1036.17" stroke="#000" stroke-width="1.6" />
<line x1="833.64" y1="1018.32" x2="833.64" y2="1077.15" stroke="#000" stroke-width="1.6" />
<circle cx="833.64" cy="1036.17" r="3.6" fill="#000"/>
<line x1="843.74" y1="1036.17" x2="863.92" y2="1036.17" stroke="#000" stroke-width="1.6" />
<line x1="853.83" y1="1018.32" x2="853.83" y2="1077.15" stroke="#000" stroke-width="1.6" />
<circle cx="853.83" cy="1036.17" r="3.6" fill="#000"/>
<line x1="863.92" y1="1036.17" x2="884.11" y2="1036.17" stroke="#000" stroke-width="1.6" />
<line x1="874.02" y1="1018.32" x2="874.02" y2="1077.15" stroke="#000" stroke-width="1.6" />
<circle cx="874.02" cy="1036.17" r="3.6" fill="#000"/>
<line x1="884.11" y1="937.03" x2="904.3" y2="937.03" stroke="#000" stroke-width="1.6" />
<line x1="894.21" y1="932.07" x2="894.21" y2="942.85" stroke="#000" stroke-width="1.6" />
<circle cx="894.21" cy="937.03" r="3.6" fill="#000"/>
<path d="M419.79 1018.32H439.98V1077.15H419.79ZM439.98 1036.17H460.16V1102.7H439.98ZM460.16 983.65H480.35V1010.2H460.16ZM480.35 973.28H500.54V995.14H480.35ZM500.54 947.03H520.73V960.85H500.54ZM520.73 909.51H540.92V917H520.73ZM540.92 852.17H561.1V855.24H540.92ZM561.1 800.41H581.29V801.8H561.1ZM581.29 815.94H601.48V817.71H581.29ZM601.48 877.7H621.67V882.25H601.48ZM621.67 902.1H641.86V908.77H621.67ZM641.86 918.08H662.04V926.67H641.86ZM662.04 937.25H682.23V948.99H662.04ZM682.23 955.77H702.42V971.8H682.23ZM702.42 957.49H722.61V974.01H702.42ZM722.61 963.31H742.8V981.6H722.61ZM742.8 965.52H762.98V984.53H742.8ZM762.98 952.58H783.17V967.76H762.98ZM783.17 955.77H803.36V971.8H783.17ZM803.36 970.47H823.55V991.25H803.36ZM823.55 983.65H843.74V1010.2H823.55ZM843.74 993.25H863.92V1025.37H843.74ZM863.92 979.79H884.11V1004.46H863.92ZM884.11 919.13H904.3V927.87H884.11Z" fill="url(#hr3)"/>
<path d="M460.16 1036.17H480.35V1102.7H460.16ZM480.35 999.5H500.54V1036.17H480.35ZM500.54 965.52H520.73V984.53H500.54ZM520.73 924.95H540.92V934.55H520.73ZM540.92 880.02H561.1V884.74H540.92ZM561.1 831.65H581.29V833.89H561.1ZM581.29 815.94H601.48V817.71H581.29ZM601.48 822.55H621.67V824.5H601.48ZM621.67 841H641.86V843.58H621.67ZM641.86 867.28H662.04V871.15H641.86ZM662.04 888.39H682.23V893.77H662.04ZM682.23 914.65H702.42V922.79H682.23ZM702.42 938.2H722.61V950.12H702.42ZM722.61 955.77H742.8V971.8H722.61ZM742.8 993.25H762.98V1025.37H742.8ZM762.98 973.28H783.17V995.14H762.98ZM783.17 1036.17H803.36V1102.7H783.17ZM803.36 993.25H823.55V1025.37H803.36ZM823.55 1018.32H843.74V1077.15H823.55ZM843.74 1007.42H863.92V1051.38H843.74ZM863.92 1036.17H884.11V1102.7H863.92Z" fill="url(#hb3)"/>
</g>
<g clip-path="url(#cr3)">
<path d="M439.98 1105.52H460.16V1195.18H439.98ZM460.16 1105.52H480.35V1195.18H460.16ZM480.35 1121.67H500.54V1179.03H480.35ZM500.54 1131.52H520.73V1169.18H500.54ZM520.73 1139.82H540.92V1160.88H520.73ZM540.92 1145.62H561.1V1155.08H540.92ZM561.1 1147.48H581.29V1153.22H561.1ZM581.29 1146.62H601.48V1154.08H581.29ZM601.48 1139.29H621.67V1161.41H601.48ZM621.67 1126.57H641.86V1174.13H621.67ZM641.86 1124.93H662.04V1175.77H641.86ZM662.04 1121H682.23V1179.7H662.04ZM682.23 1115.62H702.42V1185.08H682.23ZM702.42 1109.8H722.61V1190.9H702.42ZM722.61 1090.2H742.8V1210.5H722.61ZM742.8 1099.51H762.98V1201.19H742.8ZM762.98 1090.2H783.17V1210.5H762.98ZM783.17 1083.1H803.36V1217.6H783.17ZM803.36 1095.44H823.55V1205.26H803.36ZM823.55 1055.24H843.74V1245.46H823.55ZM843.74 1055.24H863.92V1245.46H843.74ZM863.92 1055.24H884.11V1245.46H863.92ZM884.11 1128.81H904.3V1171.89H884.11Z" fill="url(#hk3)"/>
<line x1="399.6" y1="1150.35" x2="904.3" y2="1150.35" stroke="#000" stroke-width="0.9" stroke-dasharray="3.7 1.6"/>
<path d="M428.28 1085.83l4.1 8h-8.2z" fill="#ff2200"/>
<path d="M448.47 1214.88l-4.1 -8h8.2z" fill="#ff2200"/>
<path d="M488.85 1214.88l-4.1 -8h8.2z" fill="#ff2200"/>
<path d="M509.03 1214.88l-4.1 -8h8.2z" fill="#ff2200"/>
<path d="M529.22 1214.88l-4.1 -8h8.2z" fill="#ff2200"/>
<path d="M630.16 1085.83l4.1 8h-8.2z" fill="#ff2200"/>
<path d="M650.35 1085.83l4.1 8h-8.2z" fill="#ff2200"/>
<path d="M670.54 1085.83l4.1 8h-8.2z" fill="#ff2200"/>
<path d="M710.91 1085.83l4.1 8h-8.2z" fill="#ff2200"/>
<path d="M731.1 1085.83l4.1 8h-8.2z" fill="#ff2200"/>
<path d="M751.29 1085.83l4.1 8h-8.2z" fill="#ff2200"/>
<path d="M771.48 1085.83l4.1 8h-8.2z" fill="#ff2200"/>
<path d="M791.67 1085.83l4.1 8h-8.2z" fill="#ff2200"/>
<path d="M811.85 1085.83l4.1 8h-8.2z" fill="#ff2200"/>
<path d="M832.04 1085.83l4.1 8h-8.2z" fill="#ff2200"/>
<path d="M852.23 1085.83l4.1 8h-8.2z" fill="#ff2200"/>
<path d="M872.42 1085.83l4.1 8h-8.2z" fill="#ff2200"/>
<path d="M892.61 1085.83l4.1 8h-8.2z" fill="#ff2200"/>
<path d="M410.79 1214.88l-4.1 -8h8.2z" fill="#1493ff"/>
<path d="M451.17 1214.88l-4.1 -8h8.2z" fill="#1493ff"/>
<path d="M471.36 1214.88l-4.1 -8h8.2z" fill="#1493ff"/>
<path d="M491.55 1214.88l-4.1 -8h8.2z" fill="#1493ff"/>
<path d="M511.73 1214.88l-4.1 -8h8.2z" fill="#1493ff"/>
<path d="M531.92 1214.88l-4.1 -8h8.2z" fill="#1493ff"/>
<path d="M552.11 1214.88l-4.1 -8h8.2z" fill="#1493ff"/>
<path d="M572.3 1214.88l-4.1 -8h8.2z" fill="#1493ff"/>
<path d="M612.67 1085.83l4.1 8h-8.2z" fill="#1493ff"/>
<path d="M632.86 1085.83l4.1 8h-8.2z" fill="#1493ff"/>
<path d="M653.05 1085.83l4.1 8h-8.2z" fill="#1493ff"/>
<path d="M673.24 1085.83l4.1 8h-8.2z" fill="#1493ff"/>
<path d="M693.43 1085.83l4.1 8h-8.2z" fill="#1493ff"/>
<path d="M713.61 1085.83l4.1 8h-8.2z" fill="#1493ff"/>
<path d="M733.8 1085.83l4.1 8h-8.2z" fill="#1493ff"/>
<path d="M774.18 1085.83l4.1 8h-8.2z" fill="#1493ff"/>
<path d="M794.37 1214.88l-4.1 -8h8.2z" fill="#1493ff"/>
<path d="M895.31 1214.88l-4.1 -8h8.2z" fill="#1493ff"/>
<line x1="399.6" y1="1206.98" x2="419.79" y2="1206.98" stroke="#ff2200" stroke-width="1.6" />
<rect x="405.79" y="1203.08" width="7.8" height="7.8" fill="#ff2200"/>
<line x1="460.16" y1="1180.24" x2="480.35" y2="1180.24" stroke="#ff2200" stroke-width="1.6" />
<line x1="470.26" y1="1140.7" x2="470.26" y2="1219.78" stroke="#ff2200" stroke-width="1.6" />
<rect x="466.36" y="1176.34" width="7.8" height="7.8" fill="#ff2200"/>
<line x1="480.35" y1="1223.71" x2="500.54" y2="1223.71" stroke="#ff2200" stroke-width="1.6" />
<line x1="490.45" y1="1204.38" x2="490.45" y2="1243.05" stroke="#ff2200" stroke-width="1.6" />
<rect x="486.55" y="1219.81" width="7.8" height="7.8" fill="#ff2200"/>
<line x1="500.54" y1="1221.56" x2="520.73" y2="1221.56" stroke="#ff2200" stroke-width="1.6" />
<line x1="510.63" y1="1208.64" x2="510.63" y2="1234.48" stroke="#ff2200" stroke-width="1.6" />
<rect x="506.73" y="1217.66" width="7.8" height="7.8" fill="#ff2200"/>
<line x1="520.73" y1="1218.84" x2="540.92" y2="1218.84" stroke="#ff2200" stroke-width="1.6" />
<line x1="530.82" y1="1211.46" x2="530.82" y2="1226.22" stroke="#ff2200" stroke-width="1.6" />
<rect x="526.92" y="1214.94" width="7.8" height="7.8" fill="#ff2200"/>
<line x1="540.92" y1="1205.95" x2="561.1" y2="1205.95" stroke="#ff2200" stroke-width="1.6" />
<line x1="551.01" y1="1202.32" x2="551.01" y2="1209.57" stroke="#ff2200" stroke-width="1.6" />
<rect x="547.11" y="1202.05" width="7.8" height="7.8" fill="#ff2200"/>
<line x1="561.1" y1="1144.21" x2="581.29" y2="1144.21" stroke="#ff2200" stroke-width="1.6" />
<line x1="571.2" y1="1141.27" x2="571.2" y2="1147.15" stroke="#ff2200" stroke-width="1.6" />
<rect x="567.3" y="1140.31" width="7.8" height="7.8" fill="#ff2200"/>
<line x1="581.29" y1="1137.13" x2="601.48" y2="1137.13" stroke="#ff2200" stroke-width="1.6" />
<line x1="591.39" y1="1133.22" x2="591.39" y2="1141.03" stroke="#ff2200" stroke-width="1.6" />
<rect x="587.49" y="1133.23" width="7.8" height="7.8" fill="#ff2200"/>
<line x1="601.48" y1="1088.55" x2="621.67" y2="1088.55" stroke="#ff2200" stroke-width="1.6" />
<line x1="611.57" y1="1075.2" x2="611.57" y2="1101.91" stroke="#ff2200" stroke-width="1.6" />
<rect x="607.67" y="1084.65" width="7.8" height="7.8" fill="#ff2200"/>
<line x1="662.04" y1="1073.49" x2="682.23" y2="1073.49" stroke="#ff2200" stroke-width="1.6" />
<line x1="672.14" y1="1056.2" x2="672.14" y2="1110.29" stroke="#ff2200" stroke-width="1.6" />
<rect x="668.24" y="1069.59" width="7.8" height="7.8" fill="#ff2200"/>
<line x1="682.23" y1="1123.45" x2="702.42" y2="1123.45" stroke="#ff2200" stroke-width="1.6" />
<line x1="692.33" y1="1085.41" x2="692.33" y2="1161.49" stroke="#ff2200" stroke-width="1.6" />
<rect x="688.43" y="1119.55" width="7.8" height="7.8" fill="#ff2200"/>
<line x1="702.42" y1="1076.99" x2="722.61" y2="1076.99" stroke="#ff2200" stroke-width="1.6" />
<line x1="712.51" y1="1056.2" x2="712.51" y2="1127.4" stroke="#ff2200" stroke-width="1.6" />
<rect x="708.61" y="1073.09" width="7.8" height="7.8" fill="#ff2200"/>
<line x1="742.8" y1="1035.06" x2="762.98" y2="1035.06" stroke="#ff2200" stroke-width="1.6" />
<line x1="752.89" y1="1056.2" x2="752.89" y2="1104.34" stroke="#ff2200" stroke-width="1.6" />
<rect x="748.99" y="1031.16" width="7.8" height="7.8" fill="#ff2200"/>
<line x1="803.36" y1="1038.27" x2="823.55" y2="1038.27" stroke="#ff2200" stroke-width="1.6" />
<line x1="813.45" y1="1056.2" x2="813.45" y2="1112.61" stroke="#ff2200" stroke-width="1.6" />
<rect x="809.55" y="1034.37" width="7.8" height="7.8" fill="#ff2200"/>
<line x1="843.74" y1="948.6" x2="863.92" y2="948.6" stroke="#ff2200" stroke-width="1.6" />
<line x1="853.83" y1="1056.2" x2="853.83" y2="1098.98" stroke="#ff2200" stroke-width="1.6" />
<rect x="849.93" y="944.7" width="7.8" height="7.8" fill="#ff2200"/>
<line x1="884.11" y1="1081.38" x2="904.3" y2="1081.38" stroke="#ff2200" stroke-width="1.6" />
<line x1="894.21" y1="1056.2" x2="894.21" y2="1107.87" stroke="#ff2200" stroke-width="1.6" />
<rect x="890.31" y="1077.48" width="7.8" height="7.8" fill="#ff2200"/>
<line x1="581.29" y1="1137.13" x2="601.48" y2="1137.13" stroke="#1493ff" stroke-width="1.6" />
<line x1="591.39" y1="1133.22" x2="591.39" y2="1141.03" stroke="#1493ff" stroke-width="1.6" />
<path d="M591.39 1131.73l5.4 5.4l-5.4 5.4l-5.4 -5.4z" fill="#1493ff"/>
<line x1="742.8" y1="1188.78" x2="762.98" y2="1188.78" stroke="#1493ff" stroke-width="1.6" />
<line x1="752.89" y1="1145.81" x2="752.89" y2="1231.74" stroke="#1493ff" stroke-width="1.6" />
<path d="M752.89 1183.38l5.4 5.4l-5.4 5.4l-5.4 -5.4z" fill="#1493ff"/>
<line x1="762.98" y1="1015.85" x2="783.17" y2="1015.85" stroke="#1493ff" stroke-width="1.6" />
<line x1="773.08" y1="1056.2" x2="773.08" y2="1100.92" stroke="#1493ff" stroke-width="1.6" />
<path d="M773.08 1010.45l5.4 5.4l-5.4 5.4l-5.4 -5.4z" fill="#1493ff"/>
<line x1="783.17" y1="1251.23" x2="803.36" y2="1251.23" stroke="#1493ff" stroke-width="1.6" />
<line x1="793.27" y1="1217.6" x2="793.27" y2="1244.5" stroke="#1493ff" stroke-width="1.6" />
<path d="M793.27 1245.83l5.4 5.4l-5.4 5.4l-5.4 -5.4z" fill="#1493ff"/>
<line x1="803.36" y1="1172.77" x2="823.55" y2="1172.77" stroke="#1493ff" stroke-width="1.6" />
<line x1="813.45" y1="1122.64" x2="813.45" y2="1222.89" stroke="#1493ff" stroke-width="1.6" />
<path d="M813.45 1167.37l5.4 5.4l-5.4 5.4l-5.4 -5.4z" fill="#1493ff"/>
<line x1="823.55" y1="1150.35" x2="843.74" y2="1150.35" stroke="#1493ff" stroke-width="1.6" />
<line x1="833.64" y1="1056.2" x2="833.64" y2="1244.5" stroke="#1493ff" stroke-width="1.6" />
<path d="M833.64 1144.95l5.4 5.4l-5.4 5.4l-5.4 -5.4z" fill="#1493ff"/>
<line x1="843.74" y1="1083.1" x2="863.92" y2="1083.1" stroke="#1493ff" stroke-width="1.6" />
<line x1="853.83" y1="1056.2" x2="853.83" y2="1199.58" stroke="#1493ff" stroke-width="1.6" />
<path d="M853.83 1077.7l5.4 5.4l-5.4 5.4l-5.4 -5.4z" fill="#1493ff"/>
<line x1="863.92" y1="1217.6" x2="884.11" y2="1217.6" stroke="#1493ff" stroke-width="1.6" />
<line x1="874.02" y1="1150.35" x2="874.02" y2="1244.5" stroke="#1493ff" stroke-width="1.6" />
<path d="M874.02 1212.2l5.4 5.4l-5.4 5.4l-5.4 -5.4z" fill="#1493ff"/>
</g>
<text x="399.6" y="1238.1" font-family="'Liberation Sans', sans-serif" font-size="22.2" font-weight="normal" font-style="normal" text-anchor="middle" textLength="13.6" lengthAdjust="spacingAndGlyphs" stroke="#000" stroke-width="0.35">0</text>
<line x1="410.82" y1="678" x2="410.82" y2="684" stroke="#000" stroke-width="0.95" />
<line x1="410.82" y1="1076.7" x2="410.82" y2="1088.7" stroke="#000" stroke-width="0.95" />
<line x1="410.82" y1="1211.8" x2="410.82" y2="1217.8" stroke="#000" stroke-width="0.95" />
<line x1="422.03" y1="678" x2="422.03" y2="684" stroke="#000" stroke-width="0.95" />
<line x1="422.03" y1="1076.7" x2="422.03" y2="1088.7" stroke="#000" stroke-width="0.95" />
<line x1="422.03" y1="1211.8" x2="422.03" y2="1217.8" stroke="#000" stroke-width="0.95" />
<line x1="433.25" y1="678" x2="433.25" y2="684" stroke="#000" stroke-width="0.95" />
<line x1="433.25" y1="1076.7" x2="433.25" y2="1088.7" stroke="#000" stroke-width="0.95" />
<line x1="433.25" y1="1211.8" x2="433.25" y2="1217.8" stroke="#000" stroke-width="0.95" />
<line x1="444.46" y1="678" x2="444.46" y2="684" stroke="#000" stroke-width="0.95" />
<line x1="444.46" y1="1076.7" x2="444.46" y2="1088.7" stroke="#000" stroke-width="0.95" />
<line x1="444.46" y1="1211.8" x2="444.46" y2="1217.8" stroke="#000" stroke-width="0.95" />
<line x1="455.68" y1="678" x2="455.68" y2="690" stroke="#000" stroke-width="1" />
<line x1="455.68" y1="1070.7" x2="455.68" y2="1094.7" stroke="#000" stroke-width="1" />
<line x1="455.68" y1="1205.8" x2="455.68" y2="1217.8" stroke="#000" stroke-width="1" />
<text x="455.68" y="1238.1" font-family="'Liberation Sans', sans-serif" font-size="22.2" font-weight="normal" font-style="normal" text-anchor="middle" textLength="34" lengthAdjust="spacingAndGlyphs" stroke="#000" stroke-width="0.35">0.5</text>
<line x1="466.89" y1="678" x2="466.89" y2="684" stroke="#000" stroke-width="0.95" />
<line x1="466.89" y1="1076.7" x2="466.89" y2="1088.7" stroke="#000" stroke-width="0.95" />
<line x1="466.89" y1="1211.8" x2="466.89" y2="1217.8" stroke="#000" stroke-width="0.95" />
<line x1="478.11" y1="678" x2="478.11" y2="684" stroke="#000" stroke-width="0.95" />
<line x1="478.11" y1="1076.7" x2="478.11" y2="1088.7" stroke="#000" stroke-width="0.95" />
<line x1="478.11" y1="1211.8" x2="478.11" y2="1217.8" stroke="#000" stroke-width="0.95" />
<line x1="489.32" y1="678" x2="489.32" y2="684" stroke="#000" stroke-width="0.95" />
<line x1="489.32" y1="1076.7" x2="489.32" y2="1088.7" stroke="#000" stroke-width="0.95" />
<line x1="489.32" y1="1211.8" x2="489.32" y2="1217.8" stroke="#000" stroke-width="0.95" />
<line x1="500.54" y1="678" x2="500.54" y2="684" stroke="#000" stroke-width="0.95" />
<line x1="500.54" y1="1076.7" x2="500.54" y2="1088.7" stroke="#000" stroke-width="0.95" />
<line x1="500.54" y1="1211.8" x2="500.54" y2="1217.8" stroke="#000" stroke-width="0.95" />
<line x1="511.76" y1="678" x2="511.76" y2="690" stroke="#000" stroke-width="1" />
<line x1="511.76" y1="1070.7" x2="511.76" y2="1094.7" stroke="#000" stroke-width="1" />
<line x1="511.76" y1="1205.8" x2="511.76" y2="1217.8" stroke="#000" stroke-width="1" />
<text x="511.76" y="1238.1" font-family="'Liberation Sans', sans-serif" font-size="22.2" font-weight="normal" font-style="normal" text-anchor="middle" textLength="13.6" lengthAdjust="spacingAndGlyphs" stroke="#000" stroke-width="0.35">1</text>
<line x1="522.97" y1="678" x2="522.97" y2="684" stroke="#000" stroke-width="0.95" />
<line x1="522.97" y1="1076.7" x2="522.97" y2="1088.7" stroke="#000" stroke-width="0.95" />
<line x1="522.97" y1="1211.8" x2="522.97" y2="1217.8" stroke="#000" stroke-width="0.95" />
<line x1="534.19" y1="678" x2="534.19" y2="684" stroke="#000" stroke-width="0.95" />
<line x1="534.19" y1="1076.7" x2="534.19" y2="1088.7" stroke="#000" stroke-width="0.95" />
<line x1="534.19" y1="1211.8" x2="534.19" y2="1217.8" stroke="#000" stroke-width="0.95" />
<line x1="545.4" y1="678" x2="545.4" y2="684" stroke="#000" stroke-width="0.95" />
<line x1="545.4" y1="1076.7" x2="545.4" y2="1088.7" stroke="#000" stroke-width="0.95" />
<line x1="545.4" y1="1211.8" x2="545.4" y2="1217.8" stroke="#000" stroke-width="0.95" />
<line x1="556.62" y1="678" x2="556.62" y2="684" stroke="#000" stroke-width="0.95" />
<line x1="556.62" y1="1076.7" x2="556.62" y2="1088.7" stroke="#000" stroke-width="0.95" />
<line x1="556.62" y1="1211.8" x2="556.62" y2="1217.8" stroke="#000" stroke-width="0.95" />
<line x1="567.83" y1="678" x2="567.83" y2="690" stroke="#000" stroke-width="1" />
<line x1="567.83" y1="1070.7" x2="567.83" y2="1094.7" stroke="#000" stroke-width="1" />
<line x1="567.83" y1="1205.8" x2="567.83" y2="1217.8" stroke="#000" stroke-width="1" />
<text x="567.83" y="1238.1" font-family="'Liberation Sans', sans-serif" font-size="22.2" font-weight="normal" font-style="normal" text-anchor="middle" textLength="34" lengthAdjust="spacingAndGlyphs" stroke="#000" stroke-width="0.35">1.5</text>
<line x1="579.05" y1="678" x2="579.05" y2="684" stroke="#000" stroke-width="0.95" />
<line x1="579.05" y1="1076.7" x2="579.05" y2="1088.7" stroke="#000" stroke-width="0.95" />
<line x1="579.05" y1="1211.8" x2="579.05" y2="1217.8" stroke="#000" stroke-width="0.95" />
<line x1="590.26" y1="678" x2="590.26" y2="684" stroke="#000" stroke-width="0.95" />
<line x1="590.26" y1="1076.7" x2="590.26" y2="1088.7" stroke="#000" stroke-width="0.95" />
<line x1="590.26" y1="1211.8" x2="590.26" y2="1217.8" stroke="#000" stroke-width="0.95" />
<line x1="601.48" y1="678" x2="601.48" y2="684" stroke="#000" stroke-width="0.95" />
<line x1="601.48" y1="1076.7" x2="601.48" y2="1088.7" stroke="#000" stroke-width="0.95" />
<line x1="601.48" y1="1211.8" x2="601.48" y2="1217.8" stroke="#000" stroke-width="0.95" />
<line x1="612.7" y1="678" x2="612.7" y2="684" stroke="#000" stroke-width="0.95" />
<line x1="612.7" y1="1076.7" x2="612.7" y2="1088.7" stroke="#000" stroke-width="0.95" />
<line x1="612.7" y1="1211.8" x2="612.7" y2="1217.8" stroke="#000" stroke-width="0.95" />
<line x1="623.91" y1="678" x2="623.91" y2="690" stroke="#000" stroke-width="1" />
<line x1="623.91" y1="1070.7" x2="623.91" y2="1094.7" stroke="#000" stroke-width="1" />
<line x1="623.91" y1="1205.8" x2="623.91" y2="1217.8" stroke="#000" stroke-width="1" />
<text x="623.91" y="1238.1" font-family="'Liberation Sans', sans-serif" font-size="22.2" font-weight="normal" font-style="normal" text-anchor="middle" textLength="13.6" lengthAdjust="spacingAndGlyphs" stroke="#000" stroke-width="0.35">2</text>
<line x1="635.13" y1="678" x2="635.13" y2="684" stroke="#000" stroke-width="0.95" />
<line x1="635.13" y1="1076.7" x2="635.13" y2="1088.7" stroke="#000" stroke-width="0.95" />
<line x1="635.13" y1="1211.8" x2="635.13" y2="1217.8" stroke="#000" stroke-width="0.95" />
<line x1="646.34" y1="678" x2="646.34" y2="684" stroke="#000" stroke-width="0.95" />
<line x1="646.34" y1="1076.7" x2="646.34" y2="1088.7" stroke="#000" stroke-width="0.95" />
<line x1="646.34" y1="1211.8" x2="646.34" y2="1217.8" stroke="#000" stroke-width="0.95" />
<line x1="657.56" y1="678" x2="657.56" y2="684" stroke="#000" stroke-width="0.95" />
<line x1="657.56" y1="1076.7" x2="657.56" y2="1088.7" stroke="#000" stroke-width="0.95" />
<line x1="657.56" y1="1211.8" x2="657.56" y2="1217.8" stroke="#000" stroke-width="0.95" />
<line x1="668.77" y1="678" x2="668.77" y2="684" stroke="#000" stroke-width="0.95" />
<line x1="668.77" y1="1076.7" x2="668.77" y2="1088.7" stroke="#000" stroke-width="0.95" />
<line x1="668.77" y1="1211.8" x2="668.77" y2="1217.8" stroke="#000" stroke-width="0.95" />
<line x1="679.99" y1="678" x2="679.99" y2="690" stroke="#000" stroke-width="1" />
<line x1="679.99" y1="1070.7" x2="679.99" y2="1094.7" stroke="#000" stroke-width="1" />
<line x1="679.99" y1="1205.8" x2="679.99" y2="1217.8" stroke="#000" stroke-width="1" />
<text x="679.99" y="1238.1" font-family="'Liberation Sans', sans-serif" font-size="22.2" font-weight="normal" font-style="normal" text-anchor="middle" textLength="34" lengthAdjust="spacingAndGlyphs" stroke="#000" stroke-width="0.35">2.5</text>
<line x1="691.2" y1="678" x2="691.2" y2="684" stroke="#000" stroke-width="0.95" />
<line x1="691.2" y1="1076.7" x2="691.2" y2="1088.7" stroke="#000" stroke-width="0.95" />
<line x1="691.2" y1="1211.8" x2="691.2" y2="1217.8" stroke="#000" stroke-width="0.95" />
<line x1="702.42" y1="678" x2="702.42" y2="684" stroke="#000" stroke-width="0.95" />
<line x1="702.42" y1="1076.7" x2="702.42" y2="1088.7" stroke="#000" stroke-width="0.95" />
<line x1="702.42" y1="1211.8" x2="702.42" y2="1217.8" stroke="#000" stroke-width="0.95" />
<line x1="713.64" y1="678" x2="713.64" y2="684" stroke="#000" stroke-width="0.95" />
<line x1="713.64" y1="1076.7" x2="713.64" y2="1088.7" stroke="#000" stroke-width="0.95" />
<line x1="713.64" y1="1211.8" x2="713.64" y2="1217.8" stroke="#000" stroke-width="0.95" />
<line x1="724.85" y1="678" x2="724.85" y2="684" stroke="#000" stroke-width="0.95" />
<line x1="724.85" y1="1076.7" x2="724.85" y2="1088.7" stroke="#000" stroke-width="0.95" />
<line x1="724.85" y1="1211.8" x2="724.85" y2="1217.8" stroke="#000" stroke-width="0.95" />
<line x1="736.07" y1="678" x2="736.07" y2="690" stroke="#000" stroke-width="1" />
<line x1="736.07" y1="1070.7" x2="736.07" y2="1094.7" stroke="#000" stroke-width="1" />
<line x1="736.07" y1="1205.8" x2="736.07" y2="1217.8" stroke="#000" stroke-width="1" />
<text x="736.07" y="1238.1" font-family="'Liberation Sans', sans-serif" font-size="22.2" font-weight="normal" font-style="normal" text-anchor="middle" textLength="13.6" lengthAdjust="spacingAndGlyphs" stroke="#000" stroke-width="0.35">3</text>
<line x1="747.28" y1="678" x2="747.28" y2="684" stroke="#000" stroke-width="0.95" />
<line x1="747.28" y1="1076.7" x2="747.28" y2="1088.7" stroke="#000" stroke-width="0.95" />
<line x1="747.28" y1="1211.8" x2="747.28" y2="1217.8" stroke="#000" stroke-width="0.95" />
<line x1="758.5" y1="678" x2="758.5" y2="684" stroke="#000" stroke-width="0.95" />
<line x1="758.5" y1="1076.7" x2="758.5" y2="1088.7" stroke="#000" stroke-width="0.95" />
<line x1="758.5" y1="1211.8" x2="758.5" y2="1217.8" stroke="#000" stroke-width="0.95" />
<line x1="769.71" y1="678" x2="769.71" y2="684" stroke="#000" stroke-width="0.95" />
<line x1="769.71" y1="1076.7" x2="769.71" y2="1088.7" stroke="#000" stroke-width="0.95" />
<line x1="769.71" y1="1211.8" x2="769.71" y2="1217.8" stroke="#000" stroke-width="0.95" />
<line x1="780.93" y1="678" x2="780.93" y2="684" stroke="#000" stroke-width="0.95" />
<line x1="780.93" y1="1076.7" x2="780.93" y2="1088.7" stroke="#000" stroke-width="0.95" />
<line x1="780.93" y1="1211.8" x2="780.93" y2="1217.8" stroke="#000" stroke-width="0.95" />
<line x1="792.14" y1="678" x2="792.14" y2="690" stroke="#000" stroke-width="1" />
<line x1="792.14" y1="1070.7" x2="792.14" y2="1094.7" stroke="#000" stroke-width="1" />
<line x1="792.14" y1="1205.8" x2="792.14" y2="1217.8" stroke="#000" stroke-width="1" />
<text x="792.14" y="1238.1" font-family="'Liberation Sans', sans-serif" font-size="22.2" font-weight="normal" font-style="normal" text-anchor="middle" textLength="34" lengthAdjust="spacingAndGlyphs" stroke="#000" stroke-width="0.35">3.5</text>
<line x1="803.36" y1="678" x2="803.36" y2="684" stroke="#000" stroke-width="0.95" />
<line x1="803.36" y1="1076.7" x2="803.36" y2="1088.7" stroke="#000" stroke-width="0.95" />
<line x1="803.36" y1="1211.8" x2="803.36" y2="1217.8" stroke="#000" stroke-width="0.95" />
<line x1="814.58" y1="678" x2="814.58" y2="684" stroke="#000" stroke-width="0.95" />
<line x1="814.58" y1="1076.7" x2="814.58" y2="1088.7" stroke="#000" stroke-width="0.95" />
<line x1="814.58" y1="1211.8" x2="814.58" y2="1217.8" stroke="#000" stroke-width="0.95" />
<line x1="825.79" y1="678" x2="825.79" y2="684" stroke="#000" stroke-width="0.95" />
<line x1="825.79" y1="1076.7" x2="825.79" y2="1088.7" stroke="#000" stroke-width="0.95" />
<line x1="825.79" y1="1211.8" x2="825.79" y2="1217.8" stroke="#000" stroke-width="0.95" />
<line x1="837.01" y1="678" x2="837.01" y2="684" stroke="#000" stroke-width="0.95" />
<line x1="837.01" y1="1076.7" x2="837.01" y2="1088.7" stroke="#000" stroke-width="0.95" />
<line x1="837.01" y1="1211.8" x2="837.01" y2="1217.8" stroke="#000" stroke-width="0.95" />
<line x1="848.22" y1="678" x2="848.22" y2="690" stroke="#000" stroke-width="1" />
<line x1="848.22" y1="1070.7" x2="848.22" y2="1094.7" stroke="#000" stroke-width="1" />
<line x1="848.22" y1="1205.8" x2="848.22" y2="1217.8" stroke="#000" stroke-width="1" />
<text x="848.22" y="1238.1" font-family="'Liberation Sans', sans-serif" font-size="22.2" font-weight="normal" font-style="normal" text-anchor="middle" textLength="13.6" lengthAdjust="spacingAndGlyphs" stroke="#000" stroke-width="0.35">4</text>
<line x1="859.44" y1="678" x2="859.44" y2="684" stroke="#000" stroke-width="0.95" />
<line x1="859.44" y1="1076.7" x2="859.44" y2="1088.7" stroke="#000" stroke-width="0.95" />
<line x1="859.44" y1="1211.8" x2="859.44" y2="1217.8" stroke="#000" stroke-width="0.95" />
<line x1="870.65" y1="678" x2="870.65" y2="684" stroke="#000" stroke-width="0.95" />
<line x1="870.65" y1="1076.7" x2="870.65" y2="1088.7" stroke="#000" stroke-width="0.95" />
<line x1="870.65" y1="1211.8" x2="870.65" y2="1217.8" stroke="#000" stroke-width="0.95" />
<line x1="881.87" y1="678" x2="881.87" y2="684" stroke="#000" stroke-width="0.95" />
<line x1="881.87" y1="1076.7" x2="881.87" y2="1088.7" stroke="#000" stroke-width="0.95" />
<line x1="881.87" y1="1211.8" x2="881.87" y2="1217.8" stroke="#000" stroke-width="0.95" />
<line x1="893.08" y1="678" x2="893.08" y2="684" stroke="#000" stroke-width="0.95" />
<line x1="893.08" y1="1076.7" x2="893.08" y2="1088.7" stroke="#000" stroke-width="0.95" />
<line x1="893.08" y1="1211.8" x2="893.08" y2="1217.8" stroke="#000" stroke-width="0.95" />
<text x="904.3" y="1238.1" font-family="'Liberation Sans', sans-serif" font-size="22.2" font-weight="normal" font-style="normal" text-anchor="middle" textLength="34" lengthAdjust="spacingAndGlyphs" stroke="#000" stroke-width="0.35">4.5</text>
<line x1="399.6" y1="1076.35" x2="405.6" y2="1076.35" stroke="#000" stroke-width="0.95" />
<line x1="898.3" y1="1076.35" x2="904.3" y2="1076.35" stroke="#000" stroke-width="0.95" />
<line x1="399.6" y1="1071.2" x2="405.6" y2="1071.2" stroke="#000" stroke-width="0.95" />
<line x1="898.3" y1="1071.2" x2="904.3" y2="1071.2" stroke="#000" stroke-width="0.95" />
<line x1="399.6" y1="1066.75" x2="405.6" y2="1066.75" stroke="#000" stroke-width="0.95" />
<line x1="898.3" y1="1066.75" x2="904.3" y2="1066.75" stroke="#000" stroke-width="0.95" />
<line x1="399.6" y1="1062.82" x2="405.6" y2="1062.82" stroke="#000" stroke-width="0.95" />
<line x1="898.3" y1="1062.82" x2="904.3" y2="1062.82" stroke="#000" stroke-width="0.95" />
<line x1="399.6" y1="1059.3" x2="411.6" y2="1059.3" stroke="#000" stroke-width="1" />
<line x1="892.3" y1="1059.3" x2="904.3" y2="1059.3" stroke="#000" stroke-width="1" />
<line x1="399.6" y1="1036.17" x2="405.6" y2="1036.17" stroke="#000" stroke-width="0.95" />
<line x1="898.3" y1="1036.17" x2="904.3" y2="1036.17" stroke="#000" stroke-width="0.95" />
<line x1="399.6" y1="1022.63" x2="405.6" y2="1022.63" stroke="#000" stroke-width="0.95" />
<line x1="898.3" y1="1022.63" x2="904.3" y2="1022.63" stroke="#000" stroke-width="0.95" />
<line x1="399.6" y1="1013.03" x2="405.6" y2="1013.03" stroke="#000" stroke-width="0.95" />
<line x1="898.3" y1="1013.03" x2="904.3" y2="1013.03" stroke="#000" stroke-width="0.95" />
<line x1="399.6" y1="1005.58" x2="405.6" y2="1005.58" stroke="#000" stroke-width="0.95" />
<line x1="898.3" y1="1005.58" x2="904.3" y2="1005.58" stroke="#000" stroke-width="0.95" />
<line x1="399.6" y1="999.5" x2="405.6" y2="999.5" stroke="#000" stroke-width="0.95" />
<line x1="898.3" y1="999.5" x2="904.3" y2="999.5" stroke="#000" stroke-width="0.95" />
<line x1="399.6" y1="994.35" x2="405.6" y2="994.35" stroke="#000" stroke-width="0.95" />
<line x1="898.3" y1="994.35" x2="904.3" y2="994.35" stroke="#000" stroke-width="0.95" />
<line x1="399.6" y1="989.9" x2="405.6" y2="989.9" stroke="#000" stroke-width="0.95" />
<line x1="898.3" y1="989.9" x2="904.3" y2="989.9" stroke="#000" stroke-width="0.95" />
<line x1="399.6" y1="985.97" x2="405.6" y2="985.97" stroke="#000" stroke-width="0.95" />
<line x1="898.3" y1="985.97" x2="904.3" y2="985.97" stroke="#000" stroke-width="0.95" />
<line x1="399.6" y1="982.45" x2="411.6" y2="982.45" stroke="#000" stroke-width="1" />
<line x1="892.3" y1="982.45" x2="904.3" y2="982.45" stroke="#000" stroke-width="1" />
<text x="385" y="990.45" font-family="'Liberation Sans', sans-serif" font-size="22.2" font-weight="normal" font-style="normal" text-anchor="end" textLength="27" lengthAdjust="spacingAndGlyphs" stroke="#000" stroke-width="0.35">10</text>
<text x="385.4" y="982.35" font-family="'Liberation Sans', sans-serif" font-size="16" font-weight="normal" font-style="normal" text-anchor="start" textLength="9.2" lengthAdjust="spacingAndGlyphs" stroke="#000" stroke-width="0.35">1</text>
<line x1="399.6" y1="959.32" x2="405.6" y2="959.32" stroke="#000" stroke-width="0.95" />
<line x1="898.3" y1="959.32" x2="904.3" y2="959.32" stroke="#000" stroke-width="0.95" />
<line x1="399.6" y1="945.78" x2="405.6" y2="945.78" stroke="#000" stroke-width="0.95" />
<line x1="898.3" y1="945.78" x2="904.3" y2="945.78" stroke="#000" stroke-width="0.95" />
<line x1="399.6" y1="936.18" x2="405.6" y2="936.18" stroke="#000" stroke-width="0.95" />
<line x1="898.3" y1="936.18" x2="904.3" y2="936.18" stroke="#000" stroke-width="0.95" />
<line x1="399.6" y1="928.73" x2="405.6" y2="928.73" stroke="#000" stroke-width="0.95" />
<line x1="898.3" y1="928.73" x2="904.3" y2="928.73" stroke="#000" stroke-width="0.95" />
<line x1="399.6" y1="922.65" x2="405.6" y2="922.65" stroke="#000" stroke-width="0.95" />
<line x1="898.3" y1="922.65" x2="904.3" y2="922.65" stroke="#000" stroke-width="0.95" />
<line x1="399.6" y1="917.5" x2="405.6" y2="917.5" stroke="#000" stroke-width="0.95" />
<line x1="898.3" y1="917.5" x2="904.3" y2="917.5" stroke="#000" stroke-width="0.95" />
<line x1="399.6" y1="913.05" x2="405.6" y2="913.05" stroke="#000" stroke-width="0.95" />
<line x1="898.3" y1="913.05" x2="904.3" y2="913.05" stroke="#000" stroke-width="0.95" />
<line x1="399.6" y1="909.12" x2="405.6" y2="909.12" stroke="#000" stroke-width="0.95" />
<line x1="898.3" y1="909.12" x2="904.3" y2="909.12" stroke="#000" stroke-width="0.95" />
<line x1="399.6" y1="905.6" x2="411.6" y2="905.6" stroke="#000" stroke-width="1" />
<line x1="892.3" y1="905.6" x2="904.3" y2="905.6" stroke="#000" stroke-width="1" />
<text x="385" y="913.6" font-family="'Liberation Sans', sans-serif" font-size="22.2" font-weight="normal" font-style="normal" text-anchor="end" textLength="27" lengthAdjust="spacingAndGlyphs" stroke="#000" stroke-width="0.35">10</text>
<text x="385.4" y="905.5" font-family="'Liberation Sans', sans-serif" font-size="16" font-weight="normal" font-style="normal" text-anchor="start" textLength="9.2" lengthAdjust="spacingAndGlyphs" stroke="#000" stroke-width="0.35">2</text>
<line x1="399.6" y1="882.47" x2="405.6" y2="882.47" stroke="#000" stroke-width="0.95" />
<line x1="898.3" y1="882.47" x2="904.3" y2="882.47" stroke="#000" stroke-width="0.95" />
<line x1="399.6" y1="868.93" x2="405.6" y2="868.93" stroke="#000" stroke-width="0.95" />
<line x1="898.3" y1="868.93" x2="904.3" y2="868.93" stroke="#000" stroke-width="0.95" />
<line x1="399.6" y1="859.33" x2="405.6" y2="859.33" stroke="#000" stroke-width="0.95" />
<line x1="898.3" y1="859.33" x2="904.3" y2="859.33" stroke="#000" stroke-width="0.95" />
<line x1="399.6" y1="851.88" x2="405.6" y2="851.88" stroke="#000" stroke-width="0.95" />
<line x1="898.3" y1="851.88" x2="904.3" y2="851.88" stroke="#000" stroke-width="0.95" />
<line x1="399.6" y1="845.8" x2="405.6" y2="845.8" stroke="#000" stroke-width="0.95" />
<line x1="898.3" y1="845.8" x2="904.3" y2="845.8" stroke="#000" stroke-width="0.95" />
<line x1="399.6" y1="840.65" x2="405.6" y2="840.65" stroke="#000" stroke-width="0.95" />
<line x1="898.3" y1="840.65" x2="904.3" y2="840.65" stroke="#000" stroke-width="0.95" />
<line x1="399.6" y1="836.2" x2="405.6" y2="836.2" stroke="#000" stroke-width="0.95" />
<line x1="898.3" y1="836.2" x2="904.3" y2="836.2" stroke="#000" stroke-width="0.95" />
<line x1="399.6" y1="832.27" x2="405.6" y2="832.27" stroke="#000" stroke-width="0.95" />
<line x1="898.3" y1="832.27" x2="904.3" y2="832.27" stroke="#000" stroke-width="0.95" />
<line x1="399.6" y1="828.75" x2="411.6" y2="828.75" stroke="#000" stroke-width="1" />
<line x1="892.3" y1="828.75" x2="904.3" y2="828.75" stroke="#000" stroke-width="1" />
<text x="385" y="836.75" font-family="'Liberation Sans', sans-serif" font-size="22.2" font-weight="normal" font-style="normal" text-anchor="end" textLength="27" lengthAdjust="spacingAndGlyphs" stroke="#000" stroke-width="0.35">10</text>
<text x="385.4" y="828.65" font-family="'Liberation Sans', sans-serif" font-size="16" font-weight="normal" font-style="normal" text-anchor="start" textLength="9.2" lengthAdjust="spacingAndGlyphs" stroke="#000" stroke-width="0.35">3</text>
<line x1="399.6" y1="805.62" x2="405.6" y2="805.62" stroke="#000" stroke-width="0.95" />
<line x1="898.3" y1="805.62" x2="904.3" y2="805.62" stroke="#000" stroke-width="0.95" />
<line x1="399.6" y1="792.08" x2="405.6" y2="792.08" stroke="#000" stroke-width="0.95" />
<line x1="898.3" y1="792.08" x2="904.3" y2="792.08" stroke="#000" stroke-width="0.95" />
<line x1="399.6" y1="782.48" x2="405.6" y2="782.48" stroke="#000" stroke-width="0.95" />
<line x1="898.3" y1="782.48" x2="904.3" y2="782.48" stroke="#000" stroke-width="0.95" />
<line x1="399.6" y1="775.03" x2="405.6" y2="775.03" stroke="#000" stroke-width="0.95" />
<line x1="898.3" y1="775.03" x2="904.3" y2="775.03" stroke="#000" stroke-width="0.95" />
<line x1="399.6" y1="768.95" x2="405.6" y2="768.95" stroke="#000" stroke-width="0.95" />
<line x1="898.3" y1="768.95" x2="904.3" y2="768.95" stroke="#000" stroke-width="0.95" />
<line x1="399.6" y1="763.8" x2="405.6" y2="763.8" stroke="#000" stroke-width="0.95" />
<line x1="898.3" y1="763.8" x2="904.3" y2="763.8" stroke="#000" stroke-width="0.95" />
<line x1="399.6" y1="759.35" x2="405.6" y2="759.35" stroke="#000" stroke-width="0.95" />
<line x1="898.3" y1="759.35" x2="904.3" y2="759.35" stroke="#000" stroke-width="0.95" />
<line x1="399.6" y1="755.42" x2="405.6" y2="755.42" stroke="#000" stroke-width="0.95" />
<line x1="898.3" y1="755.42" x2="904.3" y2="755.42" stroke="#000" stroke-width="0.95" />
<line x1="399.6" y1="751.9" x2="411.6" y2="751.9" stroke="#000" stroke-width="1" />
<line x1="892.3" y1="751.9" x2="904.3" y2="751.9" stroke="#000" stroke-width="1" />
<text x="385" y="759.9" font-family="'Liberation Sans', sans-serif" font-size="22.2" font-weight="normal" font-style="normal" text-anchor="end" textLength="27" lengthAdjust="spacingAndGlyphs" stroke="#000" stroke-width="0.35">10</text>
<text x="385.4" y="751.8" font-family="'Liberation Sans', sans-serif" font-size="16" font-weight="normal" font-style="normal" text-anchor="start" textLength="9.2" lengthAdjust="spacingAndGlyphs" stroke="#000" stroke-width="0.35">4</text>
<line x1="399.6" y1="728.77" x2="405.6" y2="728.77" stroke="#000" stroke-width="0.95" />
<line x1="898.3" y1="728.77" x2="904.3" y2="728.77" stroke="#000" stroke-width="0.95" />
<line x1="399.6" y1="715.23" x2="405.6" y2="715.23" stroke="#000" stroke-width="0.95" />
<line x1="898.3" y1="715.23" x2="904.3" y2="715.23" stroke="#000" stroke-width="0.95" />
<line x1="399.6" y1="705.63" x2="405.6" y2="705.63" stroke="#000" stroke-width="0.95" />
<line x1="898.3" y1="705.63" x2="904.3" y2="705.63" stroke="#000" stroke-width="0.95" />
<line x1="399.6" y1="698.18" x2="405.6" y2="698.18" stroke="#000" stroke-width="0.95" />
<line x1="898.3" y1="698.18" x2="904.3" y2="698.18" stroke="#000" stroke-width="0.95" />
<line x1="399.6" y1="692.1" x2="405.6" y2="692.1" stroke="#000" stroke-width="0.95" />
<line x1="898.3" y1="692.1" x2="904.3" y2="692.1" stroke="#000" stroke-width="0.95" />
<line x1="399.6" y1="686.95" x2="405.6" y2="686.95" stroke="#000" stroke-width="0.95" />
<line x1="898.3" y1="686.95" x2="904.3" y2="686.95" stroke="#000" stroke-width="0.95" />
<line x1="399.6" y1="682.5" x2="405.6" y2="682.5" stroke="#000" stroke-width="0.95" />
<line x1="898.3" y1="682.5" x2="904.3" y2="682.5" stroke="#000" stroke-width="0.95" />
<line x1="399.6" y1="678.57" x2="405.6" y2="678.57" stroke="#000" stroke-width="0.95" />
<line x1="898.3" y1="678.57" x2="904.3" y2="678.57" stroke="#000" stroke-width="0.95" />
<line x1="399.6" y1="1096.55" x2="411.6" y2="1096.55" stroke="#000" stroke-width="1" />
<line x1="892.3" y1="1096.55" x2="904.3" y2="1096.55" stroke="#000" stroke-width="1" />
<text x="395.2" y="1104.75" font-family="'Liberation Sans', sans-serif" font-size="22.2" font-weight="normal" font-style="normal" text-anchor="end" textLength="33" lengthAdjust="spacingAndGlyphs" stroke="#000" stroke-width="0.35">1.4</text>
<line x1="399.6" y1="1150.35" x2="411.6" y2="1150.35" stroke="#000" stroke-width="1" />
<line x1="892.3" y1="1150.35" x2="904.3" y2="1150.35" stroke="#000" stroke-width="1" />
<text x="395.2" y="1158.55" font-family="'Liberation Sans', sans-serif" font-size="22.2" font-weight="normal" font-style="normal" text-anchor="end" textLength="33" lengthAdjust="spacingAndGlyphs" stroke="#000" stroke-width="0.35">1.0</text>
<line x1="399.6" y1="1204.15" x2="411.6" y2="1204.15" stroke="#000" stroke-width="1" />
<line x1="892.3" y1="1204.15" x2="904.3" y2="1204.15" stroke="#000" stroke-width="1" />
<text x="395.2" y="1212.35" font-family="'Liberation Sans', sans-serif" font-size="22.2" font-weight="normal" font-style="normal" text-anchor="end" textLength="33" lengthAdjust="spacingAndGlyphs" stroke="#000" stroke-width="0.35">0.6</text>
<rect x="399.6" y="678" width="504.7" height="539.8" fill="none" stroke="#000" stroke-width="0.9"/>
<line x1="399.6" y1="1217.8" x2="904.3" y2="1217.8" stroke="#000" stroke-width="1.1" />
<line x1="399.6" y1="678" x2="904.3" y2="678" stroke="#000" stroke-width="1.1" />
<line x1="399.6" y1="1082.7" x2="904.3" y2="1082.7" stroke="#000" stroke-width="1.05" />
<text x="415.8" y="714" font-family="'Liberation Sans', sans-serif" font-size="25.4" font-weight="bold" font-style="italic" text-anchor="start" textLength="88.5" lengthAdjust="spacingAndGlyphs" >ATLAS</text>
<text x="510.4" y="714" font-family="'Liberation Sans', sans-serif" font-size="25.4" font-weight="normal" font-style="normal" text-anchor="start" textLength="131" lengthAdjust="spacingAndGlyphs" stroke="#000" stroke-width="0.35">Simulation</text>
<text x="417.1" y="738.7" font-family="'Liberation Sans', sans-serif" font-size="19.4" font-weight="normal" font-style="normal" text-anchor="start" textLength="318" lengthAdjust="spacingAndGlyphs" stroke="#000" stroke-width="0.35"><tspan font-style='italic'>&#947;</tspan>, E = 262 GeV, 0.20 &lt; |<tspan font-style='italic'>&#951;</tspan>| &lt; 0.25</text>
<text x="417.2" y="761.3" font-family="'Liberation Sans', sans-serif" font-size="19.4" font-weight="normal" font-style="normal" text-anchor="start" textLength="184" lengthAdjust="spacingAndGlyphs" stroke="#000" stroke-width="0.35">Detailed Simulation</text>
<line x1="351" y1="738.8" x2="333.9" y2="729.2" stroke="#000" stroke-width="1.75" />
<text transform="translate(349.1 835.4) rotate(-90)" font-family="'Liberation Sans', sans-serif" font-size="23.2" stroke="#000" stroke-width="0.35" textLength="93" lengthAdjust="spacingAndGlyphs">Showers</text>
<text transform="translate(349.1 724.3) rotate(-90)" font-family="'Liberation Sans', sans-serif" font-size="23.2" stroke="#000" stroke-width="0.35" textLength="47" lengthAdjust="spacingAndGlyphs">0.18</text>
<text transform="translate(354 1151.05) rotate(-90)" font-family="'Liberation Sans', sans-serif" font-size="23.4" stroke="#000" stroke-width="0.35" text-anchor="middle" textLength="96" lengthAdjust="spacingAndGlyphs">Sim./Ref.</text>
<text x="855.4" y="1263" font-family="'Liberation Sans', sans-serif" font-size="21.8" font-weight="normal" font-style="italic" text-anchor="start" textLength="16.4" lengthAdjust="spacingAndGlyphs" stroke="#000" stroke-width="0.45">w</text>
<text x="871.7" y="1266.1" font-family="'Liberation Sans', sans-serif" font-size="16" font-weight="normal" font-style="italic" text-anchor="start" textLength="8" lengthAdjust="spacingAndGlyphs" stroke="#000" stroke-width="0.45">s</text>
<text x="882.7" y="1266.1" font-family="'Liberation Sans', sans-serif" font-size="16" font-weight="normal" font-style="italic" text-anchor="start" textLength="20.4" lengthAdjust="spacingAndGlyphs" stroke="#000" stroke-width="0.45">tot</text>
<line x1="759.2" y1="705.3" x2="780.8" y2="705.3" stroke="#000" stroke-width="1.6" />
<line x1="770" y1="695.1" x2="770" y2="715.5" stroke="#000" stroke-width="1.6" />
<circle cx="770" cy="705.3" r="3.9" fill="#000"/>
<text x="808.6" y="712.5" font-family="'Liberation Sans', sans-serif" font-size="21.7" font-weight="normal" font-style="normal" text-anchor="start" textLength="76.5" lengthAdjust="spacingAndGlyphs" stroke="#000" stroke-width="0.35">Geant4</text>
<rect x="748.6" y="729" width="43" height="14.4" fill="url(#hr3)"/>
<line x1="748.6" y1="736" x2="791.6" y2="736" stroke="#e82a0c" stroke-width="1.5" />
<text x="808.6" y="743.2" font-family="'Liberation Sans', sans-serif" font-size="21.7" font-weight="normal" font-style="normal" text-anchor="start" textLength="41" lengthAdjust="spacingAndGlyphs" stroke="#000" stroke-width="0.35">VAE</text>
<rect x="748.6" y="760.3" width="43" height="14.4" fill="url(#hb3)"/>
<line x1="748.6" y1="767.5" x2="791.6" y2="767.5" stroke="#188bea" stroke-width="1.5" />
<text x="808.6" y="774" font-family="'Liberation Sans', sans-serif" font-size="21.7" font-weight="normal" font-style="normal" text-anchor="start" textLength="45.5" lengthAdjust="spacingAndGlyphs" stroke="#000" stroke-width="0.35">GAN</text>
<text x="620.6" y="1300" font-family="'Liberation Serif', serif" font-size="26.6" font-weight="normal" font-style="normal" text-anchor="middle" stroke="#000" stroke-width="0.35">(c)</text>
</svg>
</body></html>
